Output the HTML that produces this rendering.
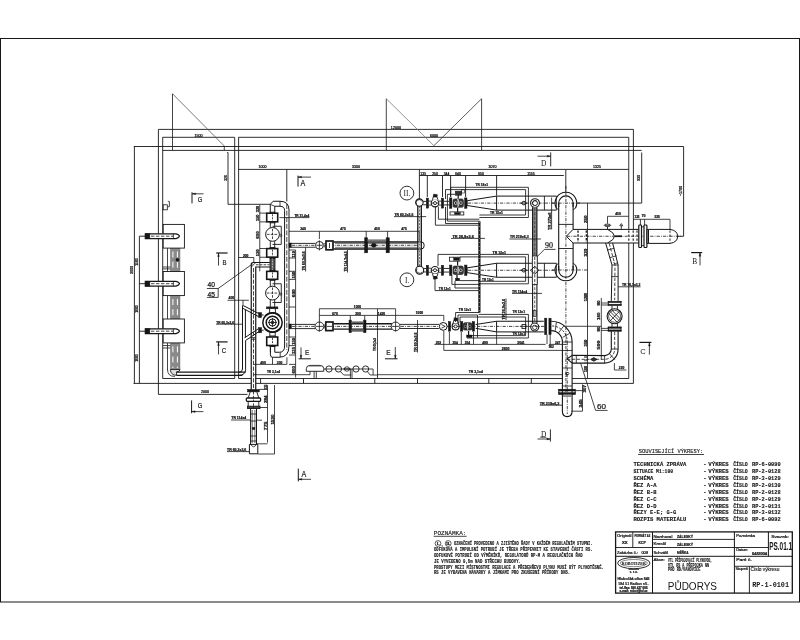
<!DOCTYPE html>
<html><head><meta charset="utf-8"><title>PUDORYS RP-1-0101</title>
<style>
html,body{margin:0;padding:0;background:#fff;}
body{width:800px;height:640px;overflow:hidden;font-family:"Liberation Sans",sans-serif;}
svg{display:block;will-change:transform;opacity:0.999;}
</style></head><body>
<svg width="800" height="640" viewBox="0 0 800 640">
<rect x="0" y="0" width="800" height="640" fill="#ffffff"/>
<rect x="0.50" y="38.50" width="799.00" height="563.50" fill="none" stroke="#161616" stroke-width="1.0" />
<line x1="158.40" y1="129.40" x2="633.50" y2="129.40" stroke="#161616" stroke-width="0.9" />
<line x1="162.60" y1="137.30" x2="234.60" y2="137.30" stroke="#161616" stroke-width="0.9" />
<line x1="238.50" y1="137.30" x2="628.75" y2="137.30" stroke="#161616" stroke-width="0.9" />
<line x1="133.80" y1="146.50" x2="683.60" y2="146.50" stroke="#161616" stroke-width="0.9" />
<line x1="162.60" y1="150.40" x2="641.70" y2="150.40" stroke="#161616" stroke-width="0.9" />
<line x1="158.40" y1="129.40" x2="158.40" y2="394.40" stroke="#161616" stroke-width="0.9" />
<line x1="162.70" y1="137.30" x2="162.70" y2="378.50" stroke="#161616" stroke-width="0.9" />
<line x1="234.70" y1="137.30" x2="234.70" y2="378.50" stroke="#161616" stroke-width="0.9" />
<line x1="238.60" y1="137.30" x2="238.60" y2="378.50" stroke="#161616" stroke-width="0.9" />
<line x1="628.75" y1="137.30" x2="628.75" y2="229.40" stroke="#161616" stroke-width="0.9" />
<line x1="628.75" y1="243.00" x2="628.75" y2="378.50" stroke="#161616" stroke-width="0.9" />
<line x1="633.40" y1="129.40" x2="633.40" y2="229.40" stroke="#161616" stroke-width="0.9" />
<line x1="633.40" y1="243.00" x2="633.40" y2="383.40" stroke="#161616" stroke-width="0.9" />
<line x1="162.70" y1="378.50" x2="234.70" y2="378.50" stroke="#161616" stroke-width="0.9" />
<line x1="238.60" y1="378.50" x2="251.25" y2="378.50" stroke="#161616" stroke-width="0.9" />
<line x1="255.75" y1="378.50" x2="562.40" y2="378.50" stroke="#161616" stroke-width="0.9" />
<line x1="572.10" y1="378.50" x2="628.75" y2="378.50" stroke="#161616" stroke-width="0.9" />
<line x1="133.50" y1="383.40" x2="251.25" y2="383.40" stroke="#161616" stroke-width="0.9" />
<line x1="255.75" y1="383.40" x2="562.40" y2="383.40" stroke="#161616" stroke-width="0.9" />
<line x1="572.10" y1="383.40" x2="633.50" y2="383.40" stroke="#161616" stroke-width="0.9" />
<line x1="260.60" y1="378.50" x2="260.60" y2="383.40" stroke="#161616" stroke-width="0.9" />
<line x1="303.50" y1="378.50" x2="303.50" y2="383.40" stroke="#161616" stroke-width="0.9" />
<line x1="374.80" y1="378.50" x2="374.80" y2="383.40" stroke="#161616" stroke-width="0.9" />
<line x1="417.50" y1="378.50" x2="417.50" y2="383.40" stroke="#161616" stroke-width="0.9" />
<line x1="488.80" y1="378.50" x2="488.80" y2="383.40" stroke="#161616" stroke-width="0.9" />
<line x1="531.30" y1="378.50" x2="531.30" y2="383.40" stroke="#161616" stroke-width="0.9" />
<line x1="134.40" y1="146.50" x2="134.40" y2="383.40" stroke="#161616" stroke-width="0.9" />
<line x1="139.40" y1="236.20" x2="139.40" y2="383.40" stroke="#161616" stroke-width="0.9" />
<text x="132.60" y="270.00" font-family="Liberation Sans" font-size="3.6" font-weight="normal" text-anchor="middle" fill="#161616" stroke="#161616" stroke-width="0.24" transform="rotate(-90 132.60 270.00)" >3000</text>
<text x="137.60" y="262.00" font-family="Liberation Sans" font-size="3.4" font-weight="normal" text-anchor="middle" fill="#161616" stroke="#161616" stroke-width="0.24" transform="rotate(-90 137.60 262.00)" >1500</text>
<text x="137.60" y="309.00" font-family="Liberation Sans" font-size="3.4" font-weight="normal" text-anchor="middle" fill="#161616" stroke="#161616" stroke-width="0.24" transform="rotate(-90 137.60 309.00)" >1000</text>
<text x="137.60" y="358.00" font-family="Liberation Sans" font-size="3.4" font-weight="normal" text-anchor="middle" fill="#161616" stroke="#161616" stroke-width="0.24" transform="rotate(-90 137.60 358.00)" >1000</text>
<line x1="139.40" y1="236.20" x2="145.40" y2="236.20" stroke="#161616" stroke-width="0.9" />
<line x1="139.40" y1="283.70" x2="145.40" y2="283.70" stroke="#161616" stroke-width="0.9" />
<line x1="139.40" y1="331.20" x2="145.40" y2="331.20" stroke="#161616" stroke-width="0.9" />
<line x1="158.40" y1="394.40" x2="247.50" y2="394.40" stroke="#161616" stroke-width="0.9" />
<text x="205.00" y="393.40" font-family="Liberation Sans" font-size="3.6" font-weight="normal" text-anchor="middle" fill="#161616" stroke="#161616" stroke-width="0.24" >2000</text>
<line x1="683.60" y1="146.50" x2="683.60" y2="236.30" stroke="#161616" stroke-width="0.9" />
<line x1="677.50" y1="236.30" x2="683.60" y2="236.30" stroke="#161616" stroke-width="0.9" />
<text x="682.30" y="191.00" font-family="Liberation Sans" font-size="3.6" font-weight="normal" text-anchor="middle" fill="#161616" stroke="#161616" stroke-width="0.24" transform="rotate(-90 682.30 191.00)" >~1700</text>
<line x1="641.70" y1="152.50" x2="641.70" y2="203.10" stroke="#161616" stroke-width="0.9" />
<line x1="576.90" y1="203.10" x2="641.70" y2="203.10" stroke="#161616" stroke-width="0.9" />
<text x="640.40" y="178.00" font-family="Liberation Sans" font-size="3.6" font-weight="normal" text-anchor="middle" fill="#161616" stroke="#161616" stroke-width="0.24" transform="rotate(-90 640.40 178.00)" >930</text>
<line x1="565.80" y1="169.40" x2="628.75" y2="169.40" stroke="#161616" stroke-width="0.9" />
<line x1="565.80" y1="169.40" x2="565.80" y2="192.30" stroke="#161616" stroke-width="0.9" />
<text x="597.00" y="168.30" font-family="Liberation Sans" font-size="3.6" font-weight="normal" text-anchor="middle" fill="#161616" stroke="#161616" stroke-width="0.24" >1325</text>
<line x1="238.60" y1="169.40" x2="565.80" y2="169.40" stroke="#161616" stroke-width="0.9" />
<line x1="286.80" y1="169.40" x2="286.80" y2="201.50" stroke="#161616" stroke-width="0.9" />
<text x="262.50" y="168.30" font-family="Liberation Sans" font-size="3.6" font-weight="normal" text-anchor="middle" fill="#161616" stroke="#161616" stroke-width="0.24" >1000</text>
<text x="356.00" y="168.30" font-family="Liberation Sans" font-size="3.6" font-weight="normal" text-anchor="middle" fill="#161616" stroke="#161616" stroke-width="0.24" >3300</text>
<text x="492.50" y="168.30" font-family="Liberation Sans" font-size="3.6" font-weight="normal" text-anchor="middle" fill="#161616" stroke="#161616" stroke-width="0.24" >3070</text>
<line x1="419.40" y1="175.50" x2="563.80" y2="175.50" stroke="#161616" stroke-width="0.9" />
<line x1="419.40" y1="169.40" x2="419.40" y2="199.00" stroke="#161616" stroke-width="0.9" />
<line x1="427.30" y1="175.50" x2="427.30" y2="197.00" stroke="#161616" stroke-width="0.9" />
<line x1="442.50" y1="175.50" x2="442.50" y2="197.00" stroke="#161616" stroke-width="0.9" />
<line x1="450.60" y1="175.50" x2="450.60" y2="197.00" stroke="#161616" stroke-width="0.9" />
<line x1="465.60" y1="175.50" x2="465.60" y2="197.00" stroke="#161616" stroke-width="0.9" />
<line x1="496.60" y1="175.50" x2="496.60" y2="195.60" stroke="#161616" stroke-width="0.9" />
<text x="423.20" y="174.50" font-family="Liberation Sans" font-size="3.4" font-weight="normal" text-anchor="middle" fill="#161616" stroke="#161616" stroke-width="0.24" >135</text>
<text x="435.00" y="174.50" font-family="Liberation Sans" font-size="3.4" font-weight="normal" text-anchor="middle" fill="#161616" stroke="#161616" stroke-width="0.24" >250</text>
<text x="446.50" y="174.50" font-family="Liberation Sans" font-size="3.4" font-weight="normal" text-anchor="middle" fill="#161616" stroke="#161616" stroke-width="0.24" >344</text>
<text x="458.00" y="174.50" font-family="Liberation Sans" font-size="3.4" font-weight="normal" text-anchor="middle" fill="#161616" stroke="#161616" stroke-width="0.24" >640</text>
<text x="481.00" y="174.50" font-family="Liberation Sans" font-size="3.4" font-weight="normal" text-anchor="middle" fill="#161616" stroke="#161616" stroke-width="0.24" >650</text>
<text x="531.00" y="174.50" font-family="Liberation Sans" font-size="3.4" font-weight="normal" text-anchor="middle" fill="#161616" stroke="#161616" stroke-width="0.24" >1155</text>
<line x1="172.50" y1="93.75" x2="172.50" y2="150.40" stroke="#161616" stroke-width="0.8" />
<line x1="172.50" y1="93.75" x2="224.30" y2="146.00" stroke="#555" stroke-width="0.8" />
<line x1="224.30" y1="146.00" x2="224.30" y2="150.40" stroke="#161616" stroke-width="0.8" />
<text x="198.50" y="136.90" font-family="Liberation Sans" font-size="3.7" font-weight="normal" text-anchor="middle" fill="#161616" stroke="#161616" stroke-width="0.24" >1500</text>
<line x1="386.30" y1="98.75" x2="386.30" y2="150.40" stroke="#161616" stroke-width="0.8" />
<line x1="481.60" y1="98.75" x2="481.60" y2="150.40" stroke="#161616" stroke-width="0.8" />
<line x1="386.30" y1="98.75" x2="433.90" y2="145.70" stroke="#777" stroke-width="0.8" />
<line x1="481.60" y1="98.75" x2="433.90" y2="145.70" stroke="#333" stroke-width="0.8" />
<text x="396.00" y="129.00" font-family="Liberation Sans" font-size="3.7" font-weight="normal" text-anchor="middle" fill="#161616" stroke="#161616" stroke-width="0.24" >12000</text>
<text x="434.00" y="137.00" font-family="Liberation Sans" font-size="3.7" font-weight="normal" text-anchor="middle" fill="#161616" stroke="#161616" stroke-width="0.24" >6000</text>
<line x1="228.00" y1="152.50" x2="228.00" y2="204.30" stroke="#161616" stroke-width="0.9" />
<line x1="228.00" y1="204.30" x2="270.20" y2="204.30" stroke="#161616" stroke-width="0.9" />
<line x1="227.20" y1="152.50" x2="228.00" y2="152.50" stroke="#161616" stroke-width="0.9" />
<text x="226.80" y="178.00" font-family="Liberation Sans" font-size="3.4" font-weight="normal" text-anchor="middle" fill="#161616" stroke="#161616" stroke-width="0.24" transform="rotate(-90 226.80 178.00)" >320</text>
<line x1="298.00" y1="175.60" x2="298.00" y2="186.60" stroke="#161616" stroke-width="1.0" />
<line x1="298.00" y1="177.10" x2="311.00" y2="177.10" stroke="#161616" stroke-width="0.8" />
<path d="M298.30,177.10 L301.50,176.20 L301.50,178.00Z" fill="#161616" stroke="#161616" stroke-width="0.3" />
<text x="300.60" y="186.30" font-family="Liberation Sans" font-size="8.2" font-weight="normal" text-anchor="start" fill="#161616" textLength="4.80" lengthAdjust="spacingAndGlyphs" stroke="#161616" stroke-width="0.2">A</text>
<line x1="298.30" y1="468.60" x2="298.30" y2="481.40" stroke="#161616" stroke-width="1.0" />
<line x1="298.30" y1="479.30" x2="311.00" y2="479.30" stroke="#161616" stroke-width="0.8" />
<path d="M298.60,479.30 L301.80,478.40 L301.80,480.20Z" fill="#161616" stroke="#161616" stroke-width="0.3" />
<text x="301.40" y="476.60" font-family="Liberation Sans" font-size="8.2" font-weight="normal" text-anchor="start" fill="#161616" textLength="4.80" lengthAdjust="spacingAndGlyphs" stroke="#161616" stroke-width="0.2">A</text>
<line x1="192.00" y1="192.30" x2="192.00" y2="203.40" stroke="#161616" stroke-width="1.0" />
<line x1="192.00" y1="193.80" x2="203.50" y2="193.80" stroke="#161616" stroke-width="0.8" />
<path d="M192.30,193.80 L195.50,192.90 L195.50,194.70Z" fill="#161616" stroke="#161616" stroke-width="0.3" />
<text x="197.80" y="202.40" font-family="Liberation Sans" font-size="7.8" font-weight="normal" text-anchor="start" fill="#161616" textLength="4.60" lengthAdjust="spacingAndGlyphs" stroke="#161616" stroke-width="0.2">G</text>
<line x1="191.60" y1="400.40" x2="191.60" y2="413.20" stroke="#161616" stroke-width="1.0" />
<line x1="191.60" y1="411.60" x2="203.40" y2="411.60" stroke="#161616" stroke-width="0.8" />
<path d="M191.90,411.60 L195.10,410.70 L195.10,412.50Z" fill="#161616" stroke="#161616" stroke-width="0.3" />
<text x="197.80" y="407.80" font-family="Liberation Sans" font-size="7.8" font-weight="normal" text-anchor="start" fill="#161616" textLength="4.60" lengthAdjust="spacingAndGlyphs" stroke="#161616" stroke-width="0.2">G</text>
<line x1="216.20" y1="253.00" x2="227.60" y2="253.00" stroke="#161616" stroke-width="1.2" />
<line x1="218.50" y1="253.00" x2="218.50" y2="265.60" stroke="#161616" stroke-width="0.8" />
<path d="M218.50,253.40 L219.40,256.60 L217.60,256.60Z" fill="#161616" stroke="#161616" stroke-width="0.3" />
<text x="222.40" y="264.60" font-family="Liberation Sans" font-size="7.6" font-weight="normal" text-anchor="start" fill="#161616" textLength="4.00" lengthAdjust="spacingAndGlyphs" stroke="#161616" stroke-width="0.2">B</text>
<line x1="216.20" y1="341.90" x2="227.60" y2="341.90" stroke="#161616" stroke-width="1.2" />
<line x1="218.50" y1="342.00" x2="218.50" y2="354.40" stroke="#161616" stroke-width="0.8" />
<path d="M218.50,342.30 L219.40,345.50 L217.60,345.50Z" fill="#161616" stroke="#161616" stroke-width="0.3" />
<text x="221.80" y="353.40" font-family="Liberation Sans" font-size="7.8" font-weight="normal" text-anchor="start" fill="#161616" textLength="4.40" lengthAdjust="spacingAndGlyphs" stroke="#161616" stroke-width="0.2">C</text>
<line x1="691.20" y1="252.60" x2="702.20" y2="252.60" stroke="#161616" stroke-width="1.2" />
<line x1="700.00" y1="252.60" x2="700.00" y2="265.40" stroke="#161616" stroke-width="0.8" />
<path d="M700.00,253.00 L700.90,256.20 L699.10,256.20Z" fill="#161616" stroke="#161616" stroke-width="0.3" />
<text x="692.20" y="264.40" font-family="Liberation Serif" font-size="7.4" font-weight="normal" text-anchor="start" fill="#161616" >B</text>
<line x1="639.40" y1="342.40" x2="651.40" y2="342.40" stroke="#161616" stroke-width="1.2" />
<line x1="649.40" y1="342.40" x2="649.40" y2="354.60" stroke="#161616" stroke-width="0.8" />
<path d="M649.40,342.80 L650.30,346.00 L648.50,346.00Z" fill="#161616" stroke="#161616" stroke-width="0.3" />
<text x="640.20" y="353.60" font-family="Liberation Sans" font-size="7.6" font-weight="normal" text-anchor="start" fill="#161616" >C</text>
<line x1="301.00" y1="347.40" x2="301.00" y2="358.80" stroke="#161616" stroke-width="0.8" />
<line x1="298.60" y1="358.80" x2="310.80" y2="358.80" stroke="#161616" stroke-width="1.0" />
<path d="M301.00,358.40 L300.10,355.20 L301.90,355.20Z" fill="#161616" stroke="#161616" stroke-width="0.3" />
<text x="304.90" y="355.20" font-family="Liberation Sans" font-size="8" font-weight="normal" text-anchor="start" fill="#161616" textLength="4.40" lengthAdjust="spacingAndGlyphs" stroke="#161616" stroke-width="0.2">E</text>
<line x1="395.30" y1="347.00" x2="395.30" y2="358.80" stroke="#161616" stroke-width="0.8" />
<line x1="385.00" y1="358.80" x2="397.60" y2="358.80" stroke="#161616" stroke-width="1.0" />
<path d="M395.30,358.40 L394.40,355.20 L396.20,355.20Z" fill="#161616" stroke="#161616" stroke-width="0.3" />
<text x="386.20" y="355.20" font-family="Liberation Sans" font-size="8" font-weight="normal" text-anchor="start" fill="#161616" textLength="4.40" lengthAdjust="spacingAndGlyphs" stroke="#161616" stroke-width="0.2">E</text>
<line x1="550.70" y1="152.40" x2="550.70" y2="166.40" stroke="#161616" stroke-width="0.9" />
<line x1="537.50" y1="156.20" x2="550.70" y2="156.20" stroke="#161616" stroke-width="0.8" />
<path d="M550.40,156.20 L547.20,157.10 L547.20,155.30Z" fill="#161616" stroke="#161616" stroke-width="0.3" />
<text x="541.00" y="166.40" font-family="Liberation Serif" font-size="7.4" font-weight="normal" text-anchor="start" fill="#161616" >D</text>
<line x1="550.40" y1="429.40" x2="550.40" y2="441.60" stroke="#161616" stroke-width="0.9" />
<line x1="537.50" y1="439.00" x2="550.40" y2="439.00" stroke="#161616" stroke-width="0.8" />
<path d="M550.10,439.00 L546.90,439.90 L546.90,438.10Z" fill="#161616" stroke="#161616" stroke-width="0.3" />
<text x="541.00" y="436.60" font-family="Liberation Serif" font-size="7.4" font-weight="normal" text-anchor="start" fill="#161616" >D</text>
<line x1="540.20" y1="437.20" x2="546.40" y2="437.20" stroke="#161616" stroke-width="0.8" />
<rect x="170.40" y="248.10" width="9.60" height="23.40" fill="#8a8a8a" stroke="#666" stroke-width="0.4" />
<line x1="172.90" y1="251.50" x2="172.90" y2="269.50" stroke="#fff" stroke-width="1.0" stroke-dasharray="6 4.2"/>
<line x1="177.40" y1="251.50" x2="177.40" y2="269.50" stroke="#fff" stroke-width="1.0" stroke-dasharray="6 4.2"/>
<line x1="167.50" y1="248.10" x2="167.50" y2="271.50" stroke="#161616" stroke-width="0.8" />
<rect x="170.40" y="295.60" width="9.60" height="23.40" fill="#8a8a8a" stroke="#666" stroke-width="0.4" />
<line x1="172.90" y1="299.00" x2="172.90" y2="317.00" stroke="#fff" stroke-width="1.0" stroke-dasharray="6 4.2"/>
<line x1="177.40" y1="299.00" x2="177.40" y2="317.00" stroke="#fff" stroke-width="1.0" stroke-dasharray="6 4.2"/>
<line x1="167.50" y1="295.60" x2="167.50" y2="319.00" stroke="#161616" stroke-width="0.8" />
<rect x="170.40" y="342.90" width="9.60" height="27.10" fill="#8a8a8a" stroke="#666" stroke-width="0.4" />
<line x1="172.90" y1="346.30" x2="172.90" y2="368.00" stroke="#fff" stroke-width="1.0" stroke-dasharray="6 4.2"/>
<line x1="177.40" y1="346.30" x2="177.40" y2="368.00" stroke="#fff" stroke-width="1.0" stroke-dasharray="6 4.2"/>
<line x1="167.50" y1="342.90" x2="167.50" y2="370.00" stroke="#161616" stroke-width="0.8" />
<path d="M170.4,369.5 Q170.6,375.2 176.5,375.3 L176.5,372.0 Q180,371.8 180.0,369.5Z" fill="#ddd" stroke="#222" stroke-width="0.9" />
<path d="M167.5,369.5 Q167.6,376.6 175,376.4" fill="none" stroke="#161616" stroke-width="0.8" />
<line x1="176.50" y1="372.00" x2="245.60" y2="372.00" stroke="#161616" stroke-width="1.25" />
<line x1="176.50" y1="375.40" x2="242.40" y2="375.40" stroke="#161616" stroke-width="1.25" />
<line x1="162.70" y1="267.00" x2="170.40" y2="267.00" stroke="#161616" stroke-width="0.8" />
<line x1="162.70" y1="268.90" x2="170.40" y2="268.90" stroke="#161616" stroke-width="0.8" />
<line x1="162.70" y1="345.60" x2="170.40" y2="345.60" stroke="#161616" stroke-width="0.8" />
<line x1="162.70" y1="348.00" x2="170.40" y2="348.00" stroke="#161616" stroke-width="0.8" />
<circle cx="177.50" cy="259.80" r="1.60" fill="#161616" stroke="#161616" stroke-width="0.5"/>
<rect x="163.20" y="224.40" width="21.20" height="23.70" fill="#fff" stroke="#161616" stroke-width="0.9" />
<path d="M145.3,233.80 L176.0,233.80 Q179.2,234.60 179.5,236.20 Q179.2,237.80 176.0,238.60 L145.3,238.60Z" fill="#fff" stroke="#161616" stroke-width="1.2" />
<rect x="145.30" y="233.80" width="4.50" height="4.80" fill="#161616" stroke="#161616" stroke-width="0.6" />
<line x1="151.00" y1="236.20" x2="173.00" y2="236.20" stroke="#161616" stroke-width="0.8" stroke-dasharray="3.4 1.6"/>
<line x1="173.40" y1="233.80" x2="173.40" y2="238.60" stroke="#161616" stroke-width="0.8" />
<rect x="163.20" y="271.50" width="21.20" height="24.10" fill="#fff" stroke="#161616" stroke-width="0.9" />
<path d="M145.3,281.30 L176.0,281.30 Q179.2,282.10 179.5,283.70 Q179.2,285.30 176.0,286.10 L145.3,286.10Z" fill="#fff" stroke="#161616" stroke-width="1.2" />
<rect x="145.30" y="281.30" width="4.50" height="4.80" fill="#161616" stroke="#161616" stroke-width="0.6" />
<line x1="151.00" y1="283.70" x2="173.00" y2="283.70" stroke="#161616" stroke-width="0.8" stroke-dasharray="3.4 1.6"/>
<line x1="173.40" y1="281.30" x2="173.40" y2="286.10" stroke="#161616" stroke-width="0.8" />
<rect x="163.20" y="319.00" width="21.20" height="23.90" fill="#fff" stroke="#161616" stroke-width="0.9" />
<path d="M145.3,328.80 L176.0,328.80 Q179.2,329.60 179.5,331.20 Q179.2,332.80 176.0,333.60 L145.3,333.60Z" fill="#fff" stroke="#161616" stroke-width="1.2" />
<rect x="145.30" y="328.80" width="4.50" height="4.80" fill="#161616" stroke="#161616" stroke-width="0.6" />
<line x1="151.00" y1="331.20" x2="173.00" y2="331.20" stroke="#161616" stroke-width="0.8" stroke-dasharray="3.4 1.6"/>
<line x1="173.40" y1="328.80" x2="173.40" y2="333.60" stroke="#161616" stroke-width="0.8" />
<rect x="163.20" y="204.80" width="4.10" height="5.00" fill="none" stroke="#161616" stroke-width="0.8" />
<path d="M167.8,201.2 L169.4,201.6 L169.4,206.6 L167.6,207.0" fill="none" stroke="#161616" stroke-width="0.8" />
<text x="207.60" y="287.20" font-family="Liberation Sans" font-size="6.8" font-weight="normal" text-anchor="start" fill="#161616" textLength="7.40" lengthAdjust="spacingAndGlyphs" stroke="#161616" stroke-width="0.25">40</text>
<text x="207.60" y="296.60" font-family="Liberation Sans" font-size="6.8" font-weight="normal" text-anchor="start" fill="#161616" textLength="7.40" lengthAdjust="spacingAndGlyphs" stroke="#161616" stroke-width="0.25">45</text>
<line x1="206.90" y1="288.50" x2="218.20" y2="288.50" stroke="#161616" stroke-width="0.8" />
<line x1="206.90" y1="297.40" x2="218.20" y2="297.40" stroke="#161616" stroke-width="0.8" />
<line x1="218.20" y1="288.50" x2="218.20" y2="297.40" stroke="#161616" stroke-width="0.8" />
<line x1="218.20" y1="288.50" x2="253.00" y2="263.60" stroke="#161616" stroke-width="0.8" />
<path d="M270.25,213 L270.25,204.4 L273.1,201.25 L280,201.25 Q289,201.25 289,210 L289,346 Q289,357.25 279,357.25 L272.6,357.25 Q270.4,357.25 270.4,354.8 L270.4,345.6" fill="none" stroke="#161616" stroke-width="1.0" />
<path d="M274.75,213 L274.75,206.25 L280,206.25 Q284.6,206.25 284.6,210.5 L284.6,346 Q284.6,352.25 279.4,352.25 L274.75,352.25 L274.75,345.6" fill="none" stroke="#161616" stroke-width="1.0" />
<line x1="280.00" y1="201.25" x2="280.00" y2="206.25" stroke="#161616" stroke-width="0.8" />
<line x1="270.25" y1="204.40" x2="274.75" y2="206.25" stroke="#161616" stroke-width="0.8" />
<line x1="286.80" y1="204.00" x2="286.80" y2="350.00" stroke="#161616" stroke-width="0.8" stroke-dasharray="5 1.6"/>
<line x1="280.20" y1="352.25" x2="280.20" y2="357.25" stroke="#161616" stroke-width="0.8" />
<line x1="270.30" y1="221.90" x2="270.30" y2="227.80" stroke="#161616" stroke-width="0.9" />
<line x1="274.70" y1="221.90" x2="274.70" y2="227.80" stroke="#161616" stroke-width="0.9" />
<line x1="270.30" y1="241.20" x2="270.30" y2="248.50" stroke="#161616" stroke-width="0.9" />
<line x1="274.70" y1="241.20" x2="274.70" y2="248.50" stroke="#161616" stroke-width="0.9" />
<line x1="270.30" y1="279.40" x2="270.30" y2="286.40" stroke="#161616" stroke-width="0.9" />
<line x1="274.70" y1="279.40" x2="274.70" y2="286.40" stroke="#161616" stroke-width="0.9" />
<line x1="270.30" y1="299.80" x2="270.30" y2="306.90" stroke="#161616" stroke-width="0.9" />
<line x1="274.70" y1="299.80" x2="274.70" y2="306.90" stroke="#161616" stroke-width="0.9" />
<rect x="270.00" y="257.25" width="5.00" height="14.00" fill="#555" stroke="#161616" stroke-width="0.8" />
<line x1="272.50" y1="258.00" x2="272.50" y2="271.00" stroke="#ddd" stroke-width="0.8" stroke-dasharray="1.5 1.2"/>
<rect x="266.70" y="213.20" width="11.00" height="8.60" fill="#fff" stroke="#161616" stroke-width="1.6" />
<line x1="272.50" y1="214.30" x2="272.50" y2="220.70" stroke="#161616" stroke-width="0.8" stroke-dasharray="2 1"/>
<line x1="269.60" y1="212.20" x2="275.40" y2="212.20" stroke="#161616" stroke-width="1.0" />
<line x1="269.60" y1="222.80" x2="275.40" y2="222.80" stroke="#161616" stroke-width="1.0" />
<rect x="266.70" y="248.60" width="11.00" height="8.55" fill="#fff" stroke="#161616" stroke-width="1.6" />
<line x1="272.50" y1="249.70" x2="272.50" y2="256.05" stroke="#161616" stroke-width="0.8" stroke-dasharray="2 1"/>
<line x1="269.60" y1="247.60" x2="275.40" y2="247.60" stroke="#161616" stroke-width="1.0" />
<line x1="269.60" y1="258.15" x2="275.40" y2="258.15" stroke="#161616" stroke-width="1.0" />
<rect x="266.70" y="271.35" width="11.00" height="7.95" fill="#fff" stroke="#161616" stroke-width="1.6" />
<line x1="272.50" y1="272.45" x2="272.50" y2="278.20" stroke="#161616" stroke-width="0.8" stroke-dasharray="2 1"/>
<line x1="269.60" y1="270.35" x2="275.40" y2="270.35" stroke="#161616" stroke-width="1.0" />
<line x1="269.60" y1="280.30" x2="275.40" y2="280.30" stroke="#161616" stroke-width="1.0" />
<rect x="266.70" y="337.00" width="11.00" height="8.50" fill="#fff" stroke="#161616" stroke-width="1.6" />
<line x1="272.50" y1="338.10" x2="272.50" y2="344.40" stroke="#161616" stroke-width="0.8" stroke-dasharray="2 1"/>
<line x1="269.60" y1="336.00" x2="275.40" y2="336.00" stroke="#161616" stroke-width="1.0" />
<line x1="269.60" y1="346.50" x2="275.40" y2="346.50" stroke="#161616" stroke-width="1.0" />
<circle cx="272.50" cy="234.40" r="6.90" fill="#fff" stroke="#161616" stroke-width="1.0"/>
<line x1="272.50" y1="228.80" x2="272.50" y2="240.00" stroke="#161616" stroke-width="0.8" stroke-dasharray="2.6 1.2"/>
<line x1="266.90" y1="234.40" x2="278.10" y2="234.40" stroke="#161616" stroke-width="0.8" stroke-dasharray="2.6 1.2"/>
<path d="M272.5,226.25 L281.25,226.25 L281.25,244.4 L272.5,244.4" fill="none" stroke="#161616" stroke-width="0.9" />
<ellipse cx="281.00" cy="235.40" rx="0.80" ry="1.50" fill="none" stroke="#161616" stroke-width="0.6"/>
<circle cx="272.50" cy="293.10" r="6.90" fill="#fff" stroke="#161616" stroke-width="1.0"/>
<line x1="272.50" y1="287.50" x2="272.50" y2="298.70" stroke="#161616" stroke-width="0.8" stroke-dasharray="2.6 1.2"/>
<line x1="266.90" y1="293.10" x2="278.10" y2="293.10" stroke="#161616" stroke-width="0.8" stroke-dasharray="2.6 1.2"/>
<path d="M272.5,283.75 L281.25,283.75 L281.25,302.5 L272.5,302.5" fill="none" stroke="#161616" stroke-width="0.9" />
<ellipse cx="281.00" cy="294.10" rx="0.80" ry="1.50" fill="none" stroke="#161616" stroke-width="0.6"/>
<rect x="266.50" y="306.90" width="11.40" height="1.90" fill="#161616" stroke="#161616" stroke-width="0.5" />
<line x1="269.60" y1="308.80" x2="269.60" y2="313.20" stroke="#161616" stroke-width="0.9" />
<line x1="275.40" y1="308.80" x2="275.40" y2="313.20" stroke="#161616" stroke-width="0.9" />
<circle cx="272.50" cy="322.50" r="9.70" fill="#fff" stroke="#161616" stroke-width="1.5"/>
<circle cx="272.50" cy="322.50" r="6.30" fill="none" stroke="#161616" stroke-width="1.5"/>
<circle cx="272.50" cy="322.50" r="3.60" fill="none" stroke="#161616" stroke-width="1.0"/>
<circle cx="272.50" cy="322.50" r="1.40" fill="#555" stroke="#161616" stroke-width="0.8"/>
<path d="M265.2,316.2 A9.6,9.6 0 0 1 279.8,316.2" fill="none" stroke="#161616" stroke-width="1.6" />
<path d="M264.8,328.4 A9.9,9.9 0 0 0 280.2,328.4" fill="none" stroke="#161616" stroke-width="1.8" />
<line x1="272.50" y1="318.00" x2="272.50" y2="327.00" stroke="#161616" stroke-width="0.8" />
<line x1="268.00" y1="322.50" x2="277.00" y2="322.50" stroke="#161616" stroke-width="0.8" />
<line x1="269.80" y1="332.20" x2="269.80" y2="336.90" stroke="#161616" stroke-width="0.9" />
<line x1="275.20" y1="332.20" x2="275.20" y2="336.90" stroke="#161616" stroke-width="0.9" />
<line x1="270.40" y1="345.60" x2="270.40" y2="352.00" stroke="#161616" stroke-width="0.9" />
<rect x="258.60" y="312.60" width="3.00" height="5.00" fill="#161616" stroke="#161616" stroke-width="0.5" />
<rect x="258.60" y="327.60" width="3.00" height="5.20" fill="#161616" stroke="#161616" stroke-width="0.5" />
<line x1="261.60" y1="315.00" x2="263.60" y2="315.00" stroke="#161616" stroke-width="1.0" />
<line x1="261.60" y1="330.20" x2="263.60" y2="330.20" stroke="#161616" stroke-width="1.0" />
<line x1="243.40" y1="305.60" x2="258.80" y2="313.60" stroke="#161616" stroke-width="1.0" />
<line x1="242.60" y1="308.20" x2="258.60" y2="316.60" stroke="#161616" stroke-width="1.0" />
<line x1="244.60" y1="337.80" x2="258.60" y2="328.60" stroke="#161616" stroke-width="1.0" />
<line x1="245.80" y1="340.40" x2="258.80" y2="331.60" stroke="#161616" stroke-width="1.0" />
<path d="M242.5,305.6 L242.5,369 Q242.4,372.2 238.6,372.4" fill="none" stroke="#161616" stroke-width="1.0" />
<path d="M245.4,309.6 L245.4,337.4 M245.6,340.4 L245.6,369.4 Q245.6,375.2 238.6,375.4" fill="none" stroke="#161616" stroke-width="1.0" />
<path d="M270.2,262.5 L253,262.5 Q251.25,262.5 251.25,264.5 L251.25,389.4" fill="none" stroke="#161616" stroke-width="1.2" />
<path d="M270.2,267.0 L255.75,267.0 L255.75,389.4" fill="none" stroke="#161616" stroke-width="1.2" />
<line x1="253.50" y1="268.00" x2="253.50" y2="388.00" stroke="#161616" stroke-width="0.8" stroke-dasharray="4.2 1.6"/>
<line x1="256.00" y1="264.75" x2="269.50" y2="264.75" stroke="#161616" stroke-width="0.8" stroke-dasharray="2.6 1.2"/>
<line x1="251.25" y1="267.00" x2="255.75" y2="262.50" stroke="#161616" stroke-width="0.8" />
<rect x="252.00" y="337.40" width="3.00" height="2.20" fill="none" stroke="#161616" stroke-width="0.6" />
<line x1="227.50" y1="300.25" x2="248.80" y2="300.25" stroke="#161616" stroke-width="0.8" />
<line x1="243.00" y1="300.25" x2="243.00" y2="306.50" stroke="#161616" stroke-width="0.8" />
<text x="228.60" y="299.40" font-family="Liberation Sans" font-size="3.3" font-weight="bold" text-anchor="start" fill="#161616" stroke="#161616" stroke-width="0.24" >400</text>
<line x1="238.60" y1="257.50" x2="253.80" y2="257.50" stroke="#161616" stroke-width="0.8" />
<line x1="253.80" y1="257.50" x2="253.80" y2="262.50" stroke="#161616" stroke-width="0.8" />
<text x="245.70" y="256.60" font-family="Liberation Sans" font-size="3.3" font-weight="bold" text-anchor="middle" fill="#161616" stroke="#161616" stroke-width="0.24" >200</text>
<line x1="259.75" y1="205.00" x2="259.75" y2="271.30" stroke="#161616" stroke-width="0.8" />
<line x1="259.75" y1="213.10" x2="266.50" y2="213.10" stroke="#161616" stroke-width="0.8" />
<line x1="259.75" y1="221.90" x2="266.50" y2="221.90" stroke="#161616" stroke-width="0.8" />
<line x1="259.75" y1="248.50" x2="266.50" y2="248.50" stroke="#161616" stroke-width="0.8" />
<line x1="259.75" y1="257.25" x2="266.50" y2="257.25" stroke="#161616" stroke-width="0.8" />
<text x="258.80" y="212.20" font-family="Liberation Sans" font-size="3.2" font-weight="bold" text-anchor="start" fill="#161616" stroke="#161616" stroke-width="0.24" transform="rotate(-90 258.80 212.20)" textLength="6.40" lengthAdjust="spacingAndGlyphs" >320</text>
<text x="258.80" y="221.00" font-family="Liberation Sans" font-size="3.2" font-weight="bold" text-anchor="start" fill="#161616" stroke="#161616" stroke-width="0.24" transform="rotate(-90 258.80 221.00)" textLength="6.40" lengthAdjust="spacingAndGlyphs" >150</text>
<text x="258.80" y="238.80" font-family="Liberation Sans" font-size="3.4" font-weight="bold" text-anchor="start" fill="#161616" stroke="#161616" stroke-width="0.24" transform="rotate(-90 258.80 238.80)" textLength="7.60" lengthAdjust="spacingAndGlyphs" >600</text>
<text x="258.80" y="256.20" font-family="Liberation Sans" font-size="3.2" font-weight="bold" text-anchor="start" fill="#161616" stroke="#161616" stroke-width="0.24" transform="rotate(-90 258.80 256.20)" textLength="6.80" lengthAdjust="spacingAndGlyphs" >110</text>
<line x1="295.60" y1="250.00" x2="295.60" y2="377.60" stroke="#161616" stroke-width="0.8" />
<line x1="289.00" y1="250.00" x2="295.60" y2="250.00" stroke="#161616" stroke-width="0.8" />
<line x1="289.00" y1="258.00" x2="295.60" y2="258.00" stroke="#161616" stroke-width="0.8" />
<line x1="289.00" y1="271.30" x2="295.60" y2="271.30" stroke="#161616" stroke-width="0.8" />
<line x1="289.00" y1="279.40" x2="295.60" y2="279.40" stroke="#161616" stroke-width="0.8" />
<line x1="289.00" y1="307.00" x2="295.60" y2="307.00" stroke="#161616" stroke-width="0.8" />
<line x1="289.00" y1="337.00" x2="295.60" y2="337.00" stroke="#161616" stroke-width="0.8" />
<line x1="289.00" y1="345.60" x2="295.60" y2="345.60" stroke="#161616" stroke-width="0.8" />
<line x1="289.00" y1="355.00" x2="295.60" y2="355.00" stroke="#161616" stroke-width="0.8" />
<line x1="289.00" y1="364.40" x2="295.60" y2="364.40" stroke="#161616" stroke-width="0.8" />
<text x="294.80" y="257.40" font-family="Liberation Sans" font-size="3.2" font-weight="bold" text-anchor="start" fill="#161616" stroke="#161616" stroke-width="0.24" transform="rotate(-90 294.80 257.40)" textLength="6.40" lengthAdjust="spacingAndGlyphs" >110</text>
<text x="294.80" y="278.60" font-family="Liberation Sans" font-size="3.2" font-weight="bold" text-anchor="start" fill="#161616" stroke="#161616" stroke-width="0.24" transform="rotate(-90 294.80 278.60)" textLength="7.00" lengthAdjust="spacingAndGlyphs" >150</text>
<text x="294.80" y="297.20" font-family="Liberation Sans" font-size="3.4" font-weight="bold" text-anchor="start" fill="#161616" stroke="#161616" stroke-width="0.24" transform="rotate(-90 294.80 297.20)" textLength="8.00" lengthAdjust="spacingAndGlyphs" >600</text>
<text x="294.80" y="344.80" font-family="Liberation Sans" font-size="3.2" font-weight="bold" text-anchor="start" fill="#161616" stroke="#161616" stroke-width="0.24" transform="rotate(-90 294.80 344.80)" textLength="6.80" lengthAdjust="spacingAndGlyphs" >150</text>
<text x="294.80" y="354.00" font-family="Liberation Sans" font-size="3.2" font-weight="bold" text-anchor="start" fill="#161616" stroke="#161616" stroke-width="0.24" transform="rotate(-90 294.80 354.00)" textLength="7.00" lengthAdjust="spacingAndGlyphs" >125</text>
<text x="294.80" y="373.60" font-family="Liberation Sans" font-size="3.2" font-weight="bold" text-anchor="start" fill="#161616" stroke="#161616" stroke-width="0.24" transform="rotate(-90 294.80 373.60)" textLength="7.60" lengthAdjust="spacingAndGlyphs" >600</text>
<text x="294.40" y="217.00" font-family="Liberation Sans" font-size="3.5" font-weight="bold" text-anchor="start" fill="#161616" stroke="#161616" stroke-width="0.24" textLength="15.00" lengthAdjust="spacingAndGlyphs" >TR 31,4x4</text>
<line x1="279.40" y1="217.60" x2="309.40" y2="217.60" stroke="#161616" stroke-width="0.8" />
<text x="216.20" y="323.60" font-family="Liberation Sans" font-size="3.5" font-weight="bold" text-anchor="start" fill="#161616" stroke="#161616" stroke-width="0.24" textLength="17.80" lengthAdjust="spacingAndGlyphs" >TR 60,3x3,6</text>
<line x1="216.00" y1="324.20" x2="243.00" y2="324.20" stroke="#161616" stroke-width="0.8" />
<text x="303.00" y="230.40" font-family="Liberation Sans" font-size="3.3" font-weight="bold" text-anchor="middle" fill="#161616" stroke="#161616" stroke-width="0.24" >340</text>
<line x1="253.80" y1="364.40" x2="286.90" y2="364.40" stroke="#161616" stroke-width="0.8" />
<line x1="272.50" y1="357.25" x2="272.50" y2="364.40" stroke="#161616" stroke-width="0.8" />
<line x1="286.90" y1="357.25" x2="286.90" y2="364.40" stroke="#161616" stroke-width="0.8" />
<text x="263.00" y="363.60" font-family="Liberation Sans" font-size="3.3" font-weight="bold" text-anchor="middle" fill="#161616" stroke="#161616" stroke-width="0.24" >400</text>
<text x="279.60" y="363.60" font-family="Liberation Sans" font-size="3.3" font-weight="bold" text-anchor="middle" fill="#161616" stroke="#161616" stroke-width="0.24" >300</text>
<text x="266.90" y="373.20" font-family="Liberation Sans" font-size="3.4" font-weight="bold" text-anchor="start" fill="#161616" stroke="#161616" stroke-width="0.24" textLength="13.10" lengthAdjust="spacingAndGlyphs" >TR 3,1x4</text>
<line x1="253.80" y1="374.70" x2="310.00" y2="374.70" stroke="#161616" stroke-width="0.8" />
<line x1="310.00" y1="371.30" x2="310.00" y2="374.70" stroke="#161616" stroke-width="0.8" />
<line x1="377.50" y1="374.70" x2="562.40" y2="374.70" stroke="#161616" stroke-width="0.8" />
<text x="468.80" y="373.00" font-family="Liberation Sans" font-size="3.4" font-weight="bold" text-anchor="start" fill="#161616" stroke="#161616" stroke-width="0.24" textLength="14.00" lengthAdjust="spacingAndGlyphs" >TR 3,1x4</text>
<line x1="289.00" y1="231.30" x2="419.40" y2="231.30" stroke="#161616" stroke-width="0.8" />
<line x1="319.40" y1="231.30" x2="319.40" y2="239.00" stroke="#161616" stroke-width="0.8" />
<line x1="366.20" y1="231.30" x2="366.20" y2="239.00" stroke="#161616" stroke-width="0.8" />
<line x1="387.60" y1="231.30" x2="387.60" y2="239.00" stroke="#161616" stroke-width="0.8" />
<line x1="419.40" y1="231.30" x2="419.40" y2="242.00" stroke="#161616" stroke-width="0.8" />
<text x="343.00" y="230.40" font-family="Liberation Sans" font-size="3.3" font-weight="bold" text-anchor="middle" fill="#161616" stroke="#161616" stroke-width="0.24" >475</text>
<text x="377.00" y="230.40" font-family="Liberation Sans" font-size="3.3" font-weight="bold" text-anchor="middle" fill="#161616" stroke="#161616" stroke-width="0.24" >450</text>
<text x="404.00" y="230.40" font-family="Liberation Sans" font-size="3.3" font-weight="bold" text-anchor="middle" fill="#161616" stroke="#161616" stroke-width="0.24" >475</text>
<rect x="289.00" y="243.00" width="2.20" height="4.60" fill="#161616" stroke="#161616" stroke-width="0.5" />
<line x1="291.00" y1="243.40" x2="315.60" y2="243.40" stroke="#161616" stroke-width="0.9" />
<line x1="291.00" y1="247.25" x2="315.60" y2="247.25" stroke="#161616" stroke-width="0.9" />
<line x1="292.00" y1="245.30" x2="417.00" y2="245.30" stroke="#161616" stroke-width="0.8" stroke-dasharray="3.2 1.2 0.8 1.2"/>
<circle cx="319.40" cy="245.30" r="3.90" fill="#fff" stroke="#161616" stroke-width="0.9"/>
<line x1="319.40" y1="240.40" x2="319.40" y2="250.40" stroke="#161616" stroke-width="0.8" />
<line x1="316.50" y1="245.30" x2="322.40" y2="245.30" stroke="#161616" stroke-width="0.8" />
<line x1="323.30" y1="243.80" x2="325.30" y2="243.80" stroke="#161616" stroke-width="0.8" />
<line x1="323.30" y1="246.80" x2="325.30" y2="246.80" stroke="#161616" stroke-width="0.8" />
<rect x="326.00" y="241.00" width="7.00" height="8.80" fill="#fff" stroke="#161616" stroke-width="1.7" />
<line x1="329.50" y1="243.00" x2="329.50" y2="248.00" stroke="#161616" stroke-width="0.8" />
<line x1="333.80" y1="241.90" x2="417.80" y2="241.90" stroke="#161616" stroke-width="1.5" />
<line x1="333.80" y1="249.00" x2="417.80" y2="249.00" stroke="#161616" stroke-width="1.5" />
<line x1="335.00" y1="243.60" x2="417.00" y2="243.60" stroke="#555" stroke-width="0.8" />
<line x1="335.00" y1="247.30" x2="417.00" y2="247.30" stroke="#555" stroke-width="0.8" />
<rect x="364.70" y="237.80" width="3.00" height="15.00" fill="#161616" stroke="#161616" stroke-width="0.5" />
<rect x="386.10" y="237.80" width="3.20" height="15.00" fill="#161616" stroke="#161616" stroke-width="0.5" />
<rect x="367.80" y="239.60" width="18.20" height="1.80" fill="#777" stroke="#666" stroke-width="0.3" />
<ellipse cx="373.80" cy="245.30" rx="2.40" ry="2.00" fill="#161616" stroke="#161616" stroke-width="0.5"/>
<path d="M417.8,241.9 L421.4,241.9 Q424.2,241.9 424.2,245.4 Q424.2,249 421.4,249 L417.8,249" fill="none" stroke="#161616" stroke-width="1.0" />
<line x1="347.50" y1="250.00" x2="347.50" y2="272.50" stroke="#161616" stroke-width="0.8" />
<text x="346.60" y="271.60" font-family="Liberation Sans" font-size="3.5" font-weight="bold" text-anchor="start" fill="#161616" stroke="#161616" stroke-width="0.24" transform="rotate(-90 346.60 271.60)" textLength="20.20" lengthAdjust="spacingAndGlyphs" >TR 114,3x4,5</text>
<line x1="305.60" y1="247.50" x2="305.60" y2="271.50" stroke="#161616" stroke-width="0.8" />
<text x="304.80" y="270.60" font-family="Liberation Sans" font-size="3.5" font-weight="bold" text-anchor="start" fill="#161616" stroke="#161616" stroke-width="0.24" transform="rotate(-90 304.80 270.60)" textLength="19.20" lengthAdjust="spacingAndGlyphs" >TR 60,3x3,6</text>
<text x="394.40" y="216.00" font-family="Liberation Sans" font-size="3.5" font-weight="bold" text-anchor="start" fill="#161616" stroke="#161616" stroke-width="0.24" textLength="19.00" lengthAdjust="spacingAndGlyphs" >TR 60,3x3,6</text>
<line x1="394.00" y1="216.60" x2="426.20" y2="216.60" stroke="#161616" stroke-width="0.8" />
<line x1="417.80" y1="204.00" x2="417.80" y2="268.50" stroke="#161616" stroke-width="1.3" />
<line x1="421.30" y1="206.00" x2="421.30" y2="267.00" stroke="#161616" stroke-width="1.3" />
<line x1="419.55" y1="206.00" x2="419.55" y2="267.00" stroke="#777" stroke-width="1.2" stroke-dasharray="2.2 1.2"/>
<circle cx="419.40" cy="202.60" r="3.70" fill="#fff" stroke="#161616" stroke-width="1.1"/>
<path d="M416.6,204.6 A3,3 0 0 1 421.8,201.0" fill="none" stroke="#161616" stroke-width="0.8" />
<circle cx="419.70" cy="270.30" r="4.00" fill="#fff" stroke="#161616" stroke-width="1.1"/>
<path d="M416.9,268.6 A3,3 0 0 0 422.2,271.8" fill="none" stroke="#161616" stroke-width="0.8" />
<line x1="423.20" y1="201.40" x2="426.20" y2="201.40" stroke="#161616" stroke-width="0.9" />
<line x1="423.20" y1="204.80" x2="426.20" y2="204.80" stroke="#161616" stroke-width="0.9" />
<rect x="426.25" y="198.10" width="2.30" height="10.00" fill="#161616" stroke="#161616" stroke-width="0.5" />
<rect x="441.35" y="198.10" width="2.30" height="10.00" fill="#161616" stroke="#161616" stroke-width="0.5" />
<circle cx="435.00" cy="203.10" r="3.80" fill="#fff" stroke="#161616" stroke-width="1.1"/>
<circle cx="435.00" cy="203.10" r="1.50" fill="none" stroke="#161616" stroke-width="0.9"/>
<line x1="431.20" y1="203.10" x2="433.50" y2="203.10" stroke="#161616" stroke-width="0.8" />
<line x1="436.50" y1="203.10" x2="438.80" y2="203.10" stroke="#161616" stroke-width="0.8" />
<path d="M432.4,199.7 L433.4,196.7 L436.8,196.7 L438.0,199.7" fill="#fff" stroke="#161616" stroke-width="0.9" />
<path d="M433.2,196.9 L433.6,194.1 L437.4,194.7 L437.0,196.9Z" fill="#161616" stroke="#161616" stroke-width="0.5" />
<line x1="428.60" y1="201.10" x2="431.20" y2="201.10" stroke="#161616" stroke-width="0.8" />
<line x1="428.60" y1="205.10" x2="431.20" y2="205.10" stroke="#161616" stroke-width="0.8" />
<line x1="438.80" y1="201.10" x2="441.40" y2="201.10" stroke="#161616" stroke-width="0.8" />
<line x1="438.80" y1="205.10" x2="441.40" y2="205.10" stroke="#161616" stroke-width="0.8" />
<line x1="443.60" y1="201.30" x2="449.50" y2="201.30" stroke="#161616" stroke-width="0.9" />
<line x1="443.60" y1="204.90" x2="449.50" y2="204.90" stroke="#161616" stroke-width="0.9" />
<rect x="449.50" y="197.90" width="2.40" height="10.40" fill="#161616" stroke="#161616" stroke-width="0.5" />
<rect x="464.60" y="197.90" width="2.40" height="10.40" fill="#161616" stroke="#161616" stroke-width="0.5" />
<rect x="453.00" y="198.90" width="10.40" height="8.40" fill="#3a3a3a" stroke="#161616" stroke-width="0.6" rx="1.6"/>
<circle cx="455.60" cy="203.10" r="2.24" fill="#d0d0d0" stroke="#161616" stroke-width="0.8"/>
<circle cx="460.80" cy="203.10" r="2.24" fill="#d0d0d0" stroke="#161616" stroke-width="0.8"/>
<circle cx="455.60" cy="203.10" r="0.80" fill="#161616" stroke="#161616" stroke-width="0.4"/>
<circle cx="460.80" cy="203.10" r="0.80" fill="#161616" stroke="#161616" stroke-width="0.4"/>
<rect x="457.75" y="199.70" width="0.90" height="6.80" fill="#ddd" stroke="#ddd" stroke-width="0.3" />
<path d="M467.2,200.7 L496.6,196.1 L556.4,196.1" fill="none" stroke="#161616" stroke-width="1.0" />
<path d="M467.2,205.5 L496.6,210.1 L556.4,210.1" fill="none" stroke="#161616" stroke-width="1.0" />
<line x1="467.20" y1="200.70" x2="467.20" y2="205.50" stroke="#161616" stroke-width="0.8" />
<line x1="496.60" y1="196.10" x2="496.60" y2="210.10" stroke="#161616" stroke-width="1.0" />
<line x1="544.40" y1="196.10" x2="544.40" y2="210.10" stroke="#161616" stroke-width="0.9" />
<line x1="468.00" y1="203.10" x2="557.00" y2="203.10" stroke="#161616" stroke-width="0.8" stroke-dasharray="3.2 1.2 0.8 1.2"/>
<circle cx="523.80" cy="203.10" r="1.80" fill="#fff" stroke="#161616" stroke-width="1.0"/>
<line x1="520.60" y1="203.10" x2="527.20" y2="203.10" stroke="#161616" stroke-width="0.9" />
<line x1="423.20" y1="268.55" x2="426.20" y2="268.55" stroke="#161616" stroke-width="0.9" />
<line x1="423.20" y1="271.95" x2="426.20" y2="271.95" stroke="#161616" stroke-width="0.9" />
<rect x="426.25" y="265.25" width="2.30" height="10.00" fill="#161616" stroke="#161616" stroke-width="0.5" />
<rect x="441.35" y="265.25" width="2.30" height="10.00" fill="#161616" stroke="#161616" stroke-width="0.5" />
<circle cx="435.00" cy="270.25" r="3.80" fill="#fff" stroke="#161616" stroke-width="1.1"/>
<circle cx="435.00" cy="270.25" r="1.50" fill="none" stroke="#161616" stroke-width="0.9"/>
<line x1="431.20" y1="270.25" x2="433.50" y2="270.25" stroke="#161616" stroke-width="0.8" />
<line x1="436.50" y1="270.25" x2="438.80" y2="270.25" stroke="#161616" stroke-width="0.8" />
<path d="M432.4,273.65 L433.4,276.65 L436.8,276.65 L438.0,273.65" fill="#fff" stroke="#161616" stroke-width="0.9" />
<path d="M433.2,276.45 L433.6,279.25 L437.4,278.65 L437.0,276.45Z" fill="#161616" stroke="#161616" stroke-width="0.5" />
<line x1="428.60" y1="268.25" x2="431.20" y2="268.25" stroke="#161616" stroke-width="0.8" />
<line x1="428.60" y1="272.25" x2="431.20" y2="272.25" stroke="#161616" stroke-width="0.8" />
<line x1="438.80" y1="268.25" x2="441.40" y2="268.25" stroke="#161616" stroke-width="0.8" />
<line x1="438.80" y1="272.25" x2="441.40" y2="272.25" stroke="#161616" stroke-width="0.8" />
<line x1="443.60" y1="268.45" x2="449.50" y2="268.45" stroke="#161616" stroke-width="0.9" />
<line x1="443.60" y1="272.05" x2="449.50" y2="272.05" stroke="#161616" stroke-width="0.9" />
<rect x="449.50" y="265.05" width="2.40" height="10.40" fill="#161616" stroke="#161616" stroke-width="0.5" />
<rect x="464.60" y="265.05" width="2.40" height="10.40" fill="#161616" stroke="#161616" stroke-width="0.5" />
<rect x="453.00" y="266.05" width="10.40" height="8.40" fill="#3a3a3a" stroke="#161616" stroke-width="0.6" rx="1.6"/>
<circle cx="455.60" cy="270.25" r="2.24" fill="#d0d0d0" stroke="#161616" stroke-width="0.8"/>
<circle cx="460.80" cy="270.25" r="2.24" fill="#d0d0d0" stroke="#161616" stroke-width="0.8"/>
<circle cx="455.60" cy="270.25" r="0.80" fill="#161616" stroke="#161616" stroke-width="0.4"/>
<circle cx="460.80" cy="270.25" r="0.80" fill="#161616" stroke="#161616" stroke-width="0.4"/>
<rect x="457.75" y="266.85" width="0.90" height="6.80" fill="#ddd" stroke="#ddd" stroke-width="0.3" />
<path d="M467.2,267.85 L496.6,263.25 L556.4,263.25" fill="none" stroke="#161616" stroke-width="1.0" />
<path d="M467.2,272.65 L496.6,277.25 L556.4,277.25" fill="none" stroke="#161616" stroke-width="1.0" />
<line x1="467.20" y1="267.85" x2="467.20" y2="272.65" stroke="#161616" stroke-width="0.8" />
<line x1="496.60" y1="263.25" x2="496.60" y2="277.25" stroke="#161616" stroke-width="1.0" />
<line x1="544.40" y1="263.25" x2="544.40" y2="277.25" stroke="#161616" stroke-width="0.9" />
<line x1="468.00" y1="270.25" x2="557.00" y2="270.25" stroke="#161616" stroke-width="0.8" stroke-dasharray="3.2 1.2 0.8 1.2"/>
<circle cx="523.80" cy="270.25" r="1.80" fill="#fff" stroke="#161616" stroke-width="1.0"/>
<line x1="520.60" y1="270.25" x2="527.20" y2="270.25" stroke="#161616" stroke-width="0.9" />
<line x1="458.20" y1="195.00" x2="458.20" y2="198.40" stroke="#161616" stroke-width="1.2" />
<rect x="455.40" y="191.20" width="6.20" height="4.00" fill="#333" stroke="#161616" stroke-width="0.6" />
<rect x="461.60" y="189.80" width="2.80" height="3.20" fill="none" stroke="#161616" stroke-width="0.6" />
<rect x="450.00" y="211.90" width="13.80" height="3.10" fill="none" stroke="#161616" stroke-width="0.8" />
<rect x="454.60" y="212.50" width="5.80" height="2.00" fill="#161616" stroke="#161616" stroke-width="0.4" />
<line x1="457.60" y1="208.00" x2="457.60" y2="211.90" stroke="#161616" stroke-width="1.2" />
<rect x="449.40" y="257.20" width="10.60" height="4.00" fill="none" stroke="#161616" stroke-width="0.8" />
<rect x="453.60" y="257.80" width="5.60" height="2.60" fill="#161616" stroke="#161616" stroke-width="0.4" />
<line x1="457.60" y1="261.20" x2="457.60" y2="265.40" stroke="#161616" stroke-width="1.2" />
<line x1="457.00" y1="275.00" x2="457.00" y2="280.60" stroke="#161616" stroke-width="1.3" />
<rect x="455.40" y="278.20" width="4.20" height="2.60" fill="#161616" stroke="#161616" stroke-width="0.4" />
<circle cx="535.00" cy="203.10" r="4.40" fill="#fff" stroke="#161616" stroke-width="1.1"/>
<circle cx="535.00" cy="203.10" r="2.50" fill="none" stroke="#161616" stroke-width="0.9"/>
<path d="M533.4,205.2 A2.6,2.6 0 0 1 536.8,201.2" fill="none" stroke="#161616" stroke-width="0.8" />
<rect x="532.60" y="207.20" width="4.30" height="48.80" fill="#8a8a8a" stroke="#777" stroke-width="0.3" />
<line x1="532.60" y1="207.20" x2="532.60" y2="323.00" stroke="#161616" stroke-width="1.1" />
<line x1="536.90" y1="207.20" x2="536.90" y2="323.00" stroke="#161616" stroke-width="1.1" />
<line x1="534.75" y1="208.00" x2="534.75" y2="322.00" stroke="#333" stroke-width="0.8" stroke-dasharray="3 1.4"/>
<rect x="532.30" y="256.00" width="4.90" height="28.50" fill="#fff" stroke="#161616" stroke-width="0.8" />
<line x1="534.75" y1="257.00" x2="534.75" y2="284.00" stroke="#161616" stroke-width="0.8" stroke-dasharray="3 1.4"/>
<path d="M530.6,270.25 L534.75,266.4 L538.9,270.25 L534.75,274.1Z" fill="none" stroke="#161616" stroke-width="0.9" />
<rect x="533.20" y="310.40" width="3.20" height="6.00" fill="#aaa" stroke="#161616" stroke-width="0.6" />
<circle cx="534.75" cy="327.00" r="4.00" fill="#fff" stroke="#161616" stroke-width="1.1"/>
<circle cx="534.75" cy="327.40" r="2.20" fill="none" stroke="#161616" stroke-width="0.8"/>
<text x="545.00" y="247.60" font-family="Liberation Serif" font-size="7.4" font-weight="normal" text-anchor="start" fill="#161616" textLength="8.00" lengthAdjust="spacingAndGlyphs" stroke="#161616" stroke-width="0.2">90</text>
<line x1="544.40" y1="249.40" x2="555.60" y2="249.40" stroke="#161616" stroke-width="0.8" />
<line x1="544.40" y1="249.40" x2="537.20" y2="256.60" stroke="#161616" stroke-width="0.8" />
<text x="510.00" y="238.40" font-family="Liberation Sans" font-size="3.5" font-weight="bold" text-anchor="start" fill="#161616" stroke="#161616" stroke-width="0.24" textLength="18.80" lengthAdjust="spacingAndGlyphs" >TR 219x6,3</text>
<line x1="509.40" y1="239.00" x2="541.00" y2="239.00" stroke="#161616" stroke-width="0.8" />
<text x="512.00" y="292.80" font-family="Liberation Sans" font-size="3.5" font-weight="bold" text-anchor="start" fill="#161616" stroke="#161616" stroke-width="0.24" textLength="15.20" lengthAdjust="spacingAndGlyphs" >TR 114x4</text>
<line x1="512.00" y1="293.40" x2="542.00" y2="293.40" stroke="#161616" stroke-width="0.8" />
<text x="452.50" y="237.80" font-family="Liberation Sans" font-size="3.5" font-weight="bold" text-anchor="start" fill="#161616" stroke="#161616" stroke-width="0.24" textLength="21.30" lengthAdjust="spacingAndGlyphs" >TR 26,9x2,6</text>
<line x1="451.00" y1="238.40" x2="485.00" y2="238.40" stroke="#161616" stroke-width="0.8" />
<line x1="551.60" y1="197.50" x2="551.60" y2="229.40" stroke="#161616" stroke-width="0.8" />
<text x="550.60" y="230.00" font-family="Liberation Sans" font-size="3.5" font-weight="bold" text-anchor="start" fill="#161616" stroke="#161616" stroke-width="0.24" transform="rotate(-90 550.60 230.00)" textLength="17.50" lengthAdjust="spacingAndGlyphs" >TR 273x6</text>
<line x1="506.00" y1="298.50" x2="506.00" y2="320.00" stroke="#161616" stroke-width="0.8" />
<text x="505.40" y="319.40" font-family="Liberation Sans" font-size="3.5" font-weight="bold" text-anchor="start" fill="#161616" stroke="#161616" stroke-width="0.24" transform="rotate(-90 505.40 319.40)" textLength="20.60" lengthAdjust="spacingAndGlyphs" >TR 26,9x2,6</text>
<rect x="289.00" y="324.00" width="2.40" height="4.80" fill="#161616" stroke="#161616" stroke-width="0.5" />
<line x1="291.40" y1="324.40" x2="315.20" y2="324.40" stroke="#161616" stroke-width="0.9" />
<line x1="291.40" y1="328.60" x2="315.20" y2="328.60" stroke="#161616" stroke-width="0.9" />
<line x1="292.00" y1="326.40" x2="476.00" y2="326.40" stroke="#161616" stroke-width="0.8" stroke-dasharray="3.2 1.2 0.8 1.2"/>
<circle cx="319.40" cy="326.40" r="4.40" fill="#fff" stroke="#161616" stroke-width="0.9"/>
<line x1="319.40" y1="321.00" x2="319.40" y2="331.60" stroke="#161616" stroke-width="0.8" />
<line x1="316.00" y1="326.40" x2="323.00" y2="326.40" stroke="#161616" stroke-width="0.8" />
<line x1="323.60" y1="325.00" x2="325.20" y2="325.00" stroke="#161616" stroke-width="0.8" />
<line x1="323.60" y1="327.80" x2="325.20" y2="327.80" stroke="#161616" stroke-width="0.8" />
<rect x="325.80" y="322.00" width="7.20" height="8.60" fill="#fff" stroke="#161616" stroke-width="1.7" />
<line x1="327.00" y1="326.40" x2="332.00" y2="326.40" stroke="#161616" stroke-width="0.8" />
<line x1="333.80" y1="323.70" x2="392.00" y2="323.70" stroke="#161616" stroke-width="1.4" />
<line x1="333.80" y1="329.10" x2="392.00" y2="329.10" stroke="#161616" stroke-width="1.4" />
<rect x="349.00" y="320.10" width="2.40" height="12.60" fill="#161616" stroke="#161616" stroke-width="0.5" />
<rect x="363.60" y="320.10" width="2.40" height="12.60" fill="#161616" stroke="#161616" stroke-width="0.5" />
<rect x="351.40" y="321.90" width="12.20" height="9.30" fill="none" stroke="#333" stroke-width="0.7" />
<line x1="351.40" y1="322.60" x2="363.60" y2="322.60" stroke="#666" stroke-width="1.2" />
<line x1="351.40" y1="330.40" x2="363.60" y2="330.40" stroke="#666" stroke-width="1.2" />
<circle cx="395.60" cy="326.40" r="4.40" fill="#fff" stroke="#161616" stroke-width="0.9"/>
<line x1="395.60" y1="321.20" x2="395.60" y2="331.40" stroke="#161616" stroke-width="0.8" />
<line x1="392.00" y1="326.40" x2="399.00" y2="326.40" stroke="#161616" stroke-width="0.8" />
<line x1="399.80" y1="324.40" x2="439.00" y2="324.40" stroke="#161616" stroke-width="0.9" />
<line x1="399.80" y1="328.50" x2="439.00" y2="328.50" stroke="#161616" stroke-width="0.9" />
<circle cx="443.20" cy="326.40" r="3.90" fill="#fff" stroke="#161616" stroke-width="1.0"/>
<path d="M441.4,324.6 L445.2,326.4 L441.4,328.2" fill="none" stroke="#161616" stroke-width="0.8" />
<rect x="448.35" y="321.60" width="2.30" height="9.60" fill="#161616" stroke="#161616" stroke-width="0.5" />
<rect x="460.40" y="321.60" width="2.40" height="9.60" fill="#161616" stroke="#161616" stroke-width="0.5" />
<rect x="472.20" y="321.60" width="2.40" height="9.60" fill="#161616" stroke="#161616" stroke-width="0.5" />
<circle cx="455.60" cy="326.40" r="3.50" fill="#fff" stroke="#161616" stroke-width="1.1"/>
<circle cx="455.60" cy="326.40" r="1.50" fill="none" stroke="#161616" stroke-width="0.9"/>
<line x1="452.10" y1="326.40" x2="454.10" y2="326.40" stroke="#161616" stroke-width="0.8" />
<line x1="457.10" y1="326.40" x2="459.10" y2="326.40" stroke="#161616" stroke-width="0.8" />
<path d="M453.0,323.29999999999995 L454.0,320.29999999999995 L457.40000000000003,320.29999999999995 L458.6,323.29999999999995" fill="#fff" stroke="#161616" stroke-width="0.9" />
<path d="M453.8,320.5 L454.20000000000005,317.7 L458.0,318.29999999999995 L457.6,320.5Z" fill="#161616" stroke="#161616" stroke-width="0.5" />
<rect x="463.30" y="322.70" width="8.60" height="7.40" fill="#3a3a3a" stroke="#161616" stroke-width="0.6" rx="1.6"/>
<circle cx="465.45" cy="326.40" r="1.85" fill="#d0d0d0" stroke="#161616" stroke-width="0.8"/>
<circle cx="469.75" cy="326.40" r="1.85" fill="#d0d0d0" stroke="#161616" stroke-width="0.8"/>
<circle cx="465.45" cy="326.40" r="0.80" fill="#161616" stroke="#161616" stroke-width="0.4"/>
<circle cx="469.75" cy="326.40" r="0.80" fill="#161616" stroke="#161616" stroke-width="0.4"/>
<rect x="467.15" y="323.50" width="0.90" height="5.80" fill="#ddd" stroke="#ddd" stroke-width="0.3" />
<line x1="468.60" y1="331.00" x2="468.60" y2="337.00" stroke="#161616" stroke-width="1.2" />
<rect x="466.60" y="335.00" width="5.40" height="2.60" fill="#161616" stroke="#161616" stroke-width="0.4" />
<path d="M475.6,324.5 L496.6,321.25 L543.8,321.25" fill="none" stroke="#161616" stroke-width="1.0" />
<path d="M475.6,328.29999999999995 L496.6,331.9 L543.8,331.9" fill="none" stroke="#161616" stroke-width="1.0" />
<line x1="496.60" y1="321.25" x2="496.60" y2="331.90" stroke="#161616" stroke-width="1.0" />
<line x1="477.00" y1="326.40" x2="545.00" y2="326.40" stroke="#161616" stroke-width="0.8" stroke-dasharray="3.2 1.2 0.8 1.2"/>
<rect x="522.00" y="324.60" width="3.80" height="3.80" fill="#fff" stroke="#161616" stroke-width="0.9" />
<line x1="520.00" y1="326.40" x2="528.00" y2="326.40" stroke="#161616" stroke-width="0.8" />
<rect x="544.60" y="318.20" width="2.20" height="16.40" fill="#161616" stroke="#161616" stroke-width="0.5" />
<rect x="548.90" y="318.20" width="2.20" height="16.40" fill="#161616" stroke="#161616" stroke-width="0.5" />
<path d="M551.2,321.25 A20.9,20.75 0 0 1 572.1,342 L572.1,411.3 Q572.1,416.6 567.2,416.6 Q562.4,416.6 562.4,411.3 L562.4,342 A11.2,11.4 0 0 0 551.2,330.6" fill="none" stroke="#161616" stroke-width="1.1" />
<path d="M552,326 A15.3,16 0 0 1 567.3,342" fill="none" stroke="#161616" stroke-width="0.8" stroke-dasharray="2.4 1.4"/>
<line x1="567.25" y1="342.00" x2="567.25" y2="414.00" stroke="#161616" stroke-width="0.8" stroke-dasharray="3.2 1.2 0.8 1.2"/>
<line x1="556.40" y1="322.00" x2="555.20" y2="330.80" stroke="#161616" stroke-width="0.8" />
<line x1="564.00" y1="325.60" x2="558.60" y2="332.80" stroke="#161616" stroke-width="0.8" />
<line x1="569.60" y1="333.40" x2="562.60" y2="337.40" stroke="#161616" stroke-width="0.8" />
<line x1="562.40" y1="342.00" x2="572.10" y2="342.00" stroke="#161616" stroke-width="0.8" />
<line x1="562.40" y1="350.50" x2="572.10" y2="350.50" stroke="#161616" stroke-width="0.8" />
<line x1="562.40" y1="368.00" x2="572.10" y2="368.00" stroke="#161616" stroke-width="0.8" />
<line x1="562.40" y1="386.00" x2="572.10" y2="386.00" stroke="#161616" stroke-width="0.8" />
<rect x="558.50" y="389.20" width="17.10" height="1.80" fill="#161616" stroke="#161616" stroke-width="0.5" />
<rect x="558.50" y="392.60" width="17.10" height="2.00" fill="#161616" stroke="#161616" stroke-width="0.5" />
<line x1="558.90" y1="390.80" x2="558.90" y2="393.00" stroke="#161616" stroke-width="0.9" />
<line x1="575.20" y1="390.80" x2="575.20" y2="393.00" stroke="#161616" stroke-width="0.9" />
<rect x="563.40" y="394.40" width="7.80" height="2.40" fill="#999" stroke="#555" stroke-width="0.4" />
<path d="M566.2,372.6 L568.4,372.6 Q569.4,373.6 568.4,374.6 L566.2,374.6Z M566.2,372.6 L566.2,376.6" fill="none" stroke="#161616" stroke-width="0.8" />
<line x1="319.40" y1="308.75" x2="395.60" y2="308.75" stroke="#161616" stroke-width="0.8" />
<line x1="319.40" y1="308.75" x2="319.40" y2="321.00" stroke="#161616" stroke-width="0.8" />
<line x1="377.50" y1="308.75" x2="377.50" y2="378.50" stroke="#161616" stroke-width="0.8" />
<text x="357.50" y="307.80" font-family="Liberation Sans" font-size="3.3" font-weight="bold" text-anchor="middle" fill="#161616" stroke="#161616" stroke-width="0.24" >1000</text>
<line x1="319.40" y1="315.40" x2="395.60" y2="315.40" stroke="#161616" stroke-width="0.8" />
<line x1="350.30" y1="315.60" x2="350.30" y2="320.00" stroke="#161616" stroke-width="0.8" />
<line x1="364.70" y1="315.60" x2="364.70" y2="320.00" stroke="#161616" stroke-width="0.8" />
<text x="335.00" y="314.80" font-family="Liberation Sans" font-size="3.3" font-weight="bold" text-anchor="middle" fill="#161616" stroke="#161616" stroke-width="0.24" >670</text>
<text x="358.00" y="314.80" font-family="Liberation Sans" font-size="3.3" font-weight="bold" text-anchor="middle" fill="#161616" stroke="#161616" stroke-width="0.24" >200</text>
<text x="381.50" y="314.80" font-family="Liberation Sans" font-size="3.3" font-weight="bold" text-anchor="middle" fill="#161616" stroke="#161616" stroke-width="0.24" >1420</text>
<line x1="395.60" y1="315.40" x2="443.80" y2="315.40" stroke="#161616" stroke-width="0.8" />
<line x1="395.60" y1="308.75" x2="395.60" y2="321.00" stroke="#161616" stroke-width="0.8" />
<line x1="443.80" y1="315.40" x2="443.80" y2="321.00" stroke="#161616" stroke-width="0.8" />
<text x="419.40" y="314.00" font-family="Liberation Sans" font-size="3.3" font-weight="bold" text-anchor="middle" fill="#161616" stroke="#161616" stroke-width="0.24" >1000</text>
<line x1="417.50" y1="320.00" x2="417.50" y2="352.50" stroke="#161616" stroke-width="0.8" />
<text x="416.60" y="352.00" font-family="Liberation Sans" font-size="3.5" font-weight="bold" text-anchor="start" fill="#161616" stroke="#161616" stroke-width="0.24" transform="rotate(-90 416.60 352.00)" textLength="19.50" lengthAdjust="spacingAndGlyphs" >TR 60,3x3,6</text>
<text x="376.40" y="351.00" font-family="Liberation Sans" font-size="3.4" font-weight="bold" text-anchor="start" fill="#161616" stroke="#161616" stroke-width="0.24" transform="rotate(-90 376.40 351.00)" textLength="13.00" lengthAdjust="spacingAndGlyphs" >TR 60,3x3</text>
<line x1="434.40" y1="344.40" x2="545.60" y2="344.40" stroke="#161616" stroke-width="0.8" />
<line x1="443.80" y1="350.40" x2="562.50" y2="350.40" stroke="#161616" stroke-width="0.8" />
<line x1="443.80" y1="331.00" x2="443.80" y2="350.40" stroke="#161616" stroke-width="0.8" />
<line x1="449.40" y1="332.00" x2="449.40" y2="344.40" stroke="#161616" stroke-width="0.8" />
<line x1="461.30" y1="332.00" x2="461.30" y2="344.40" stroke="#161616" stroke-width="0.8" />
<line x1="473.50" y1="332.00" x2="473.50" y2="344.40" stroke="#161616" stroke-width="0.8" />
<line x1="496.60" y1="332.00" x2="496.60" y2="344.40" stroke="#161616" stroke-width="0.8" />
<text x="438.40" y="343.60" font-family="Liberation Sans" font-size="3.3" font-weight="bold" text-anchor="middle" fill="#161616" stroke="#161616" stroke-width="0.24" >203</text>
<text x="455.20" y="343.60" font-family="Liberation Sans" font-size="3.3" font-weight="bold" text-anchor="middle" fill="#161616" stroke="#161616" stroke-width="0.24" >254</text>
<text x="467.40" y="343.60" font-family="Liberation Sans" font-size="3.3" font-weight="bold" text-anchor="middle" fill="#161616" stroke="#161616" stroke-width="0.24" >254</text>
<text x="485.00" y="343.60" font-family="Liberation Sans" font-size="3.3" font-weight="bold" text-anchor="middle" fill="#161616" stroke="#161616" stroke-width="0.24" >490</text>
<text x="521.00" y="343.60" font-family="Liberation Sans" font-size="3.3" font-weight="bold" text-anchor="middle" fill="#161616" stroke="#161616" stroke-width="0.24" >2041</text>
<text x="505.60" y="349.60" font-family="Liberation Sans" font-size="3.5" font-weight="bold" text-anchor="middle" fill="#161616" stroke="#161616" stroke-width="0.24" >2600</text>
<text x="557.60" y="343.60" font-family="Liberation Sans" font-size="3.2" font-weight="bold" text-anchor="middle" fill="#161616" stroke="#161616" stroke-width="0.24" >247</text>
<text x="551.20" y="348.20" font-family="Liberation Sans" font-size="3.2" font-weight="bold" text-anchor="middle" fill="#161616" stroke="#161616" stroke-width="0.24" >162</text>
<line x1="549.00" y1="344.40" x2="566.60" y2="344.40" stroke="#161616" stroke-width="0.8" />
<line x1="547.00" y1="334.40" x2="547.00" y2="344.00" stroke="#161616" stroke-width="0.8" />
<line x1="550.20" y1="334.40" x2="550.20" y2="347.00" stroke="#161616" stroke-width="0.8" />
<path d="M450.7,197 L450.7,187.3 L528.4,187.3 L528.4,217.5 L479.4,217.5" fill="none" stroke="#161616" stroke-width="0.85" />
<path d="M445.5,199 L445.5,189.6 L525.6,189.6 L525.6,215.0 L479.4,215.0" fill="none" stroke="#161616" stroke-width="0.85" />
<path d="M445.5,207 L445.5,223.5 L479.4,223.5" fill="none" stroke="#161616" stroke-width="0.85" />
<path d="M455.2,194.3 L447.4,194.3 L447.4,221.1 L479.4,221.1" fill="none" stroke="#161616" stroke-width="0.85" />
<path d="M435.4,207 L435.4,225.2 L478.4,225.2" fill="none" stroke="#161616" stroke-width="0.85" />
<path d="M438.4,206.6 L438.4,219.2 L479.4,219.2" fill="none" stroke="#161616" stroke-width="0.85" />
<text x="475.60" y="186.40" font-family="Liberation Sans" font-size="3.4" font-weight="bold" text-anchor="start" fill="#161616" stroke="#161616" stroke-width="0.24" textLength="12.40" lengthAdjust="spacingAndGlyphs" >TR 18x1</text>
<text x="490.00" y="214.20" font-family="Liberation Sans" font-size="3.4" font-weight="bold" text-anchor="start" fill="#161616" stroke="#161616" stroke-width="0.24" textLength="13.00" lengthAdjust="spacingAndGlyphs" >TR 15x1</text>
<path d="M438.0,266 L438.0,254.4 L528.4,254.4 L528.4,283.8 L479.4,283.8" fill="none" stroke="#161616" stroke-width="0.85" />
<path d="M460.0,256.9 L525.6,256.9 L525.6,281.3 L479.4,281.3" fill="none" stroke="#161616" stroke-width="0.85" />
<path d="M435.0,279 L435.0,290.6 L479.4,290.6" fill="none" stroke="#161616" stroke-width="0.85" />
<path d="M451.9,275 L451.9,284.4 L479.4,284.4" fill="none" stroke="#161616" stroke-width="0.85" />
<path d="M455.0,281 L455.0,288.0 L479.4,288.0" fill="none" stroke="#161616" stroke-width="0.85" />
<line x1="459.60" y1="280.60" x2="479.40" y2="280.60" stroke="#161616" stroke-width="0.85" />
<text x="492.50" y="253.60" font-family="Liberation Sans" font-size="3.4" font-weight="bold" text-anchor="start" fill="#161616" stroke="#161616" stroke-width="0.24" textLength="13.50" lengthAdjust="spacingAndGlyphs" >TR 12x1</text>
<text x="482.00" y="280.60" font-family="Liberation Sans" font-size="3.4" font-weight="bold" text-anchor="start" fill="#161616" stroke="#161616" stroke-width="0.24" textLength="11.80" lengthAdjust="spacingAndGlyphs" >TR 12x1</text>
<text x="438.80" y="289.80" font-family="Liberation Sans" font-size="3.4" font-weight="bold" text-anchor="start" fill="#161616" stroke="#161616" stroke-width="0.24" textLength="11.80" lengthAdjust="spacingAndGlyphs" >TR 12x1</text>
<path d="M455.6,322 L455.6,312.5 L479.4,312.5" fill="none" stroke="#161616" stroke-width="0.85" />
<path d="M458.0,323 L458.0,315.0 L477.5,315.0 L477.5,337.6" fill="none" stroke="#161616" stroke-width="0.85" />
<path d="M478.6,314.4 L528.4,314.4 L528.4,338.0 L467.0,338.0" fill="none" stroke="#161616" stroke-width="0.85" />
<path d="M460.0,322.6 L460.0,317.0 L525.6,317.0 L525.6,335.6 L470.0,335.6" fill="none" stroke="#161616" stroke-width="0.85" />
<text x="458.80" y="311.20" font-family="Liberation Sans" font-size="3.4" font-weight="bold" text-anchor="start" fill="#161616" stroke="#161616" stroke-width="0.24" textLength="12.20" lengthAdjust="spacingAndGlyphs" >TR 12x1</text>
<text x="512.50" y="313.40" font-family="Liberation Sans" font-size="3.4" font-weight="bold" text-anchor="start" fill="#161616" stroke="#161616" stroke-width="0.24" textLength="12.50" lengthAdjust="spacingAndGlyphs" >TR 12x1</text>
<text x="512.50" y="335.00" font-family="Liberation Sans" font-size="3.4" font-weight="bold" text-anchor="start" fill="#161616" stroke="#161616" stroke-width="0.24" textLength="12.50" lengthAdjust="spacingAndGlyphs" >TR 12x1</text>
<line x1="479.40" y1="221.30" x2="479.40" y2="312.60" stroke="#161616" stroke-width="2.2" />
<line x1="479.40" y1="222.00" x2="479.40" y2="312.00" stroke="#999" stroke-width="0.8" stroke-dasharray="1 3"/>
<circle cx="406.90" cy="193.10" r="6.90" fill="none" stroke="#161616" stroke-width="0.9"/>
<text x="406.90" y="195.80" font-family="Liberation Serif" font-size="7.4" font-weight="normal" text-anchor="middle" fill="#161616" >II.</text>
<circle cx="406.90" cy="279.80" r="6.90" fill="none" stroke="#161616" stroke-width="0.9"/>
<text x="407.20" y="282.50" font-family="Liberation Serif" font-size="7.4" font-weight="normal" text-anchor="middle" fill="#161616" >I.</text>
<path d="M556.36,208.17 A10.8,10.8 0 1 1 575.44,208.17" fill="none" stroke="#161616" stroke-width="1.1" />
<path d="M558.6999999999999,207.10 L558.6999999999999,203.1 A7.2,7.2 0 0 1 573.1,203.1 L573.1,207.10" fill="none" stroke="#161616" stroke-width="1.1" />
<line x1="556.36" y1="208.17" x2="558.70" y2="209.77" stroke="#161616" stroke-width="0.9" />
<line x1="575.44" y1="208.17" x2="573.10" y2="209.77" stroke="#161616" stroke-width="0.9" />
<path d="M556.36,264.93 A10.8,10.8 0 1 0 575.44,264.93" fill="none" stroke="#161616" stroke-width="1.1" />
<path d="M558.6999999999999,266.00 L558.6999999999999,270.0 A7.2,7.2 0 0 0 573.1,270.0 L573.1,266.00" fill="none" stroke="#161616" stroke-width="1.1" />
<line x1="556.36" y1="264.93" x2="558.70" y2="263.33" stroke="#161616" stroke-width="0.9" />
<line x1="575.44" y1="264.93" x2="573.10" y2="263.33" stroke="#161616" stroke-width="0.9" />
<line x1="558.70" y1="203.10" x2="558.70" y2="270.00" stroke="#161616" stroke-width="1.1" />
<line x1="573.10" y1="203.10" x2="573.10" y2="229.40" stroke="#161616" stroke-width="1.1" />
<line x1="573.10" y1="243.00" x2="573.10" y2="270.00" stroke="#161616" stroke-width="1.1" />
<line x1="565.90" y1="186.00" x2="565.90" y2="392.00" stroke="#161616" stroke-width="0.8" stroke-dasharray="3.2 1.2 0.8 1.2"/>
<line x1="558.70" y1="224.40" x2="573.10" y2="224.40" stroke="#161616" stroke-width="0.9" />
<line x1="558.70" y1="248.50" x2="573.10" y2="248.50" stroke="#161616" stroke-width="0.9" />
<line x1="552.00" y1="203.10" x2="580.00" y2="203.10" stroke="#161616" stroke-width="0.8" stroke-dasharray="3.2 1.2 0.8 1.2"/>
<line x1="552.00" y1="270.00" x2="587.60" y2="270.00" stroke="#161616" stroke-width="0.8" stroke-dasharray="3.2 1.2 0.8 1.2"/>
<line x1="556.40" y1="196.10" x2="556.40" y2="210.10" stroke="#161616" stroke-width="0.8" />
<line x1="556.40" y1="263.20" x2="556.40" y2="277.30" stroke="#161616" stroke-width="0.8" />
<path d="M573.1,229.4 L566.3,236.25 L573.1,243.0" fill="none" stroke="#161616" stroke-width="1.0" />
<line x1="573.10" y1="229.40" x2="638.80" y2="229.40" stroke="#161616" stroke-width="1.0" />
<line x1="573.10" y1="243.00" x2="638.80" y2="243.00" stroke="#161616" stroke-width="1.0" />
<line x1="567.00" y1="236.25" x2="681.00" y2="236.25" stroke="#161616" stroke-width="0.8" stroke-dasharray="3.2 1.2 0.8 1.2"/>
<line x1="578.00" y1="230.40" x2="578.00" y2="242.20" stroke="#161616" stroke-width="1.3" stroke-dasharray="2.4 1.4"/>
<line x1="586.30" y1="230.40" x2="586.30" y2="242.20" stroke="#161616" stroke-width="1.3" stroke-dasharray="2.4 1.4"/>
<path d="M607.6,229.4 Q621.4,236.25 607.6,243.0" fill="none" stroke="#161616" stroke-width="1.0" />
<line x1="615.00" y1="236.25" x2="622.00" y2="236.25" stroke="#161616" stroke-width="1.7" />
<line x1="628.80" y1="230.40" x2="628.80" y2="242.20" stroke="#161616" stroke-width="1.1" stroke-dasharray="2.4 1.6"/>
<line x1="633.20" y1="230.40" x2="633.20" y2="242.20" stroke="#161616" stroke-width="1.1" stroke-dasharray="2.4 1.6"/>
<line x1="637.00" y1="230.40" x2="637.00" y2="242.20" stroke="#161616" stroke-width="1.1" stroke-dasharray="2.4 1.6"/>
<rect x="638.80" y="225.00" width="2.70" height="22.50" fill="#fff" stroke="#161616" stroke-width="1.2" rx="0.8"/>
<rect x="644.00" y="225.00" width="2.90" height="22.50" fill="#fff" stroke="#161616" stroke-width="1.2" rx="0.8"/>
<line x1="641.50" y1="226.90" x2="644.00" y2="226.90" stroke="#161616" stroke-width="0.8" />
<line x1="641.50" y1="245.60" x2="644.00" y2="245.60" stroke="#161616" stroke-width="0.8" />
<line x1="646.90" y1="229.40" x2="646.90" y2="243.40" stroke="#161616" stroke-width="0.8" />
<line x1="646.90" y1="229.40" x2="648.60" y2="229.40" stroke="#161616" stroke-width="0.9" />
<line x1="646.90" y1="243.40" x2="648.60" y2="243.40" stroke="#161616" stroke-width="0.9" />
<path d="M648.5,229.4 L670,229.4 Q677.6,230.4 677.6,236.4 Q677.6,242.4 670,243.4 L648.5,243.4Z" fill="none" stroke="#161616" stroke-width="1.0" />
<line x1="670.00" y1="230.40" x2="670.00" y2="242.60" stroke="#161616" stroke-width="0.9" stroke-dasharray="2.4 1.6"/>
<line x1="607.50" y1="223.60" x2="607.50" y2="229.40" stroke="#161616" stroke-width="0.9" />
<ellipse cx="607.50" cy="225.30" rx="3.30" ry="1.20" fill="#fff" stroke="#161616" stroke-width="0.8"/>
<line x1="604.60" y1="225.30" x2="610.40" y2="225.30" stroke="#161616" stroke-width="0.8" />
<line x1="621.30" y1="225.60" x2="621.30" y2="229.40" stroke="#161616" stroke-width="0.8" />
<path d="M619.8,225.8 L622.8,225.8 L621.3,223.6Z" fill="none" stroke="#161616" stroke-width="0.8" />
<line x1="607.50" y1="216.30" x2="628.80" y2="216.30" stroke="#161616" stroke-width="0.8" />
<line x1="607.50" y1="216.30" x2="607.50" y2="223.40" stroke="#161616" stroke-width="0.8" />
<text x="618.00" y="215.40" font-family="Liberation Sans" font-size="3.3" font-weight="bold" text-anchor="middle" fill="#161616" stroke="#161616" stroke-width="0.24" >450</text>
<line x1="633.40" y1="219.30" x2="670.00" y2="219.30" stroke="#161616" stroke-width="0.8" />
<line x1="640.40" y1="219.30" x2="640.40" y2="225.00" stroke="#161616" stroke-width="0.8" />
<line x1="644.60" y1="219.30" x2="644.60" y2="225.00" stroke="#161616" stroke-width="0.8" />
<line x1="670.00" y1="219.30" x2="670.00" y2="229.40" stroke="#161616" stroke-width="0.8" />
<text x="637.00" y="218.00" font-family="Liberation Sans" font-size="3.0" font-weight="bold" text-anchor="middle" fill="#161616" stroke="#161616" stroke-width="0.24" >135</text>
<text x="643.60" y="217.40" font-family="Liberation Sans" font-size="3.6" font-weight="bold" text-anchor="middle" fill="#161616" stroke="#161616" stroke-width="0.24" >70</text>
<text x="657.20" y="218.40" font-family="Liberation Sans" font-size="3.3" font-weight="bold" text-anchor="middle" fill="#161616" stroke="#161616" stroke-width="0.24" >535</text>
<line x1="587.50" y1="203.10" x2="587.50" y2="378.50" stroke="#161616" stroke-width="0.8" />
<line x1="565.90" y1="326.30" x2="601.30" y2="326.30" stroke="#161616" stroke-width="0.8" />
<text x="586.60" y="223.00" font-family="Liberation Sans" font-size="3.2" font-weight="bold" text-anchor="start" fill="#161616" stroke="#161616" stroke-width="0.24" transform="rotate(-90 586.60 223.00)" textLength="7.40" lengthAdjust="spacingAndGlyphs" >250</text>
<text x="586.60" y="256.40" font-family="Liberation Sans" font-size="3.2" font-weight="bold" text-anchor="start" fill="#161616" stroke="#161616" stroke-width="0.24" transform="rotate(-90 586.60 256.40)" textLength="7.80" lengthAdjust="spacingAndGlyphs" >320</text>
<text x="586.60" y="301.20" font-family="Liberation Sans" font-size="3.2" font-weight="bold" text-anchor="start" fill="#161616" stroke="#161616" stroke-width="0.24" transform="rotate(-90 586.60 301.20)" textLength="8.40" lengthAdjust="spacingAndGlyphs" >1280</text>
<text x="586.60" y="346.60" font-family="Liberation Sans" font-size="3.2" font-weight="bold" text-anchor="start" fill="#161616" stroke="#161616" stroke-width="0.24" transform="rotate(-90 586.60 346.60)" textLength="7.00" lengthAdjust="spacingAndGlyphs" >250</text>
<text x="586.60" y="372.00" font-family="Liberation Sans" font-size="3.0" font-weight="bold" text-anchor="start" fill="#161616" stroke="#161616" stroke-width="0.24" transform="rotate(-90 586.60 372.00)" textLength="6.00" lengthAdjust="spacingAndGlyphs" >160</text>
<path d="M605.6,243.0 L612.0,265.0 L611.3,300.8" fill="none" stroke="#161616" stroke-width="1.0" />
<path d="M612.6,243.0 L618.1,265.0 L618.1,300.8" fill="none" stroke="#161616" stroke-width="1.0" />
<path d="M609.2,243.4 L615.0,265 L614.7,300" fill="none" stroke="#161616" stroke-width="0.8" stroke-dasharray="3.4 1.6"/>
<line x1="607.60" y1="250.00" x2="614.40" y2="248.20" stroke="#161616" stroke-width="0.8" />
<line x1="609.80" y1="257.60" x2="616.60" y2="255.80" stroke="#161616" stroke-width="0.8" />
<line x1="612.00" y1="265.00" x2="618.10" y2="265.00" stroke="#161616" stroke-width="0.8" />
<line x1="611.40" y1="276.60" x2="618.10" y2="276.60" stroke="#161616" stroke-width="0.8" />
<path d="M613.4,262.6 Q615.4,264.8 617.6,262.6" fill="none" stroke="#161616" stroke-width="0.8" />
<text x="622.00" y="286.20" font-family="Liberation Sans" font-size="3.4" font-weight="bold" text-anchor="start" fill="#161616" stroke="#161616" stroke-width="0.24" textLength="18.40" lengthAdjust="spacingAndGlyphs" >TR 76,1x3,2</text>
<line x1="618.10" y1="286.80" x2="640.60" y2="286.80" stroke="#161616" stroke-width="0.8" />
<rect x="608.00" y="301.20" width="13.30" height="1.40" fill="#161616" stroke="#161616" stroke-width="0.5" />
<rect x="608.00" y="304.20" width="13.30" height="1.40" fill="#161616" stroke="#161616" stroke-width="0.5" />
<line x1="608.40" y1="301.20" x2="608.40" y2="305.60" stroke="#161616" stroke-width="0.9" />
<line x1="620.90" y1="301.20" x2="620.90" y2="305.60" stroke="#161616" stroke-width="0.9" />
<rect x="608.00" y="326.90" width="13.30" height="1.40" fill="#161616" stroke="#161616" stroke-width="0.5" />
<rect x="608.00" y="329.90" width="13.30" height="1.40" fill="#161616" stroke="#161616" stroke-width="0.5" />
<line x1="608.40" y1="326.90" x2="608.40" y2="331.30" stroke="#161616" stroke-width="0.9" />
<line x1="620.90" y1="326.90" x2="620.90" y2="331.30" stroke="#161616" stroke-width="0.9" />
<line x1="612.00" y1="305.60" x2="612.00" y2="309.40" stroke="#161616" stroke-width="0.9" />
<line x1="617.40" y1="305.60" x2="617.40" y2="309.40" stroke="#161616" stroke-width="0.9" />
<line x1="612.00" y1="323.20" x2="612.00" y2="326.90" stroke="#161616" stroke-width="0.9" />
<line x1="617.40" y1="323.20" x2="617.40" y2="326.90" stroke="#161616" stroke-width="0.9" />
<line x1="601.30" y1="303.00" x2="608.00" y2="303.00" stroke="#161616" stroke-width="0.8" />
<line x1="601.30" y1="305.00" x2="608.00" y2="305.00" stroke="#161616" stroke-width="0.8" />
<line x1="601.30" y1="328.40" x2="608.00" y2="328.40" stroke="#161616" stroke-width="0.8" />
<line x1="601.30" y1="330.40" x2="608.00" y2="330.40" stroke="#161616" stroke-width="0.8" />
<circle cx="614.60" cy="316.30" r="7.50" fill="#fff" stroke="#161616" stroke-width="1.1"/>
<circle cx="614.60" cy="316.30" r="6.00" fill="none" stroke="#161616" stroke-width="0.7"/>
<path d="M609.6,311.0 L619.8,321.4 M611.4,309.6 L621.2,319.8 M608.2,313.0 L617.8,322.8 M619.6,311.2 L609.6,321.4" fill="none" stroke="#161616" stroke-width="0.8" />
<line x1="601.30" y1="298.00" x2="601.30" y2="359.40" stroke="#161616" stroke-width="0.8" />
<text x="600.40" y="305.60" font-family="Liberation Sans" font-size="3.0" font-weight="bold" text-anchor="start" fill="#161616" stroke="#161616" stroke-width="0.24" transform="rotate(-90 600.40 305.60)" textLength="5.00" lengthAdjust="spacingAndGlyphs" >80</text>
<text x="600.40" y="320.00" font-family="Liberation Sans" font-size="3.2" font-weight="bold" text-anchor="start" fill="#161616" stroke="#161616" stroke-width="0.24" transform="rotate(-90 600.40 320.00)" textLength="7.60" lengthAdjust="spacingAndGlyphs" >160</text>
<text x="600.40" y="331.60" font-family="Liberation Sans" font-size="3.0" font-weight="bold" text-anchor="start" fill="#161616" stroke="#161616" stroke-width="0.24" transform="rotate(-90 600.40 331.60)" textLength="5.00" lengthAdjust="spacingAndGlyphs" >80</text>
<text x="600.40" y="349.40" font-family="Liberation Sans" font-size="3.4" font-weight="bold" text-anchor="start" fill="#161616" stroke="#161616" stroke-width="0.24" transform="rotate(-90 600.40 349.40)" textLength="8.80" lengthAdjust="spacingAndGlyphs" >500</text>
<path d="M618.1,331.3 L618.1,349 A13.5,14.1 0 0 1 604.6,363.1 L572.5,363.1 L566.9,358.9 L572.5,355.2 L604.6,355.6 A6.7,6.6 0 0 0 611.3,349 L611.3,331.3" fill="none" stroke="#161616" stroke-width="1.1" />
<path d="M614.7,332 L614.7,349 A10.1,10.3 0 0 1 604.6,359.3 L568,359.3" fill="none" stroke="#161616" stroke-width="0.8" stroke-dasharray="3.2 1.6"/>
<line x1="576.30" y1="355.40" x2="576.30" y2="363.10" stroke="#161616" stroke-width="0.8" />
<line x1="611.30" y1="349.00" x2="618.10" y2="349.00" stroke="#161616" stroke-width="0.8" />
<line x1="604.60" y1="355.60" x2="604.60" y2="363.10" stroke="#161616" stroke-width="0.8" />
<line x1="609.60" y1="353.80" x2="614.80" y2="359.60" stroke="#161616" stroke-width="0.8" />
<line x1="585.00" y1="356.00" x2="585.00" y2="362.80" stroke="#161616" stroke-width="1.0" stroke-dasharray="2 1.2"/>
<line x1="586.90" y1="356.00" x2="586.90" y2="362.80" stroke="#161616" stroke-width="1.0" stroke-dasharray="2 1.2"/>
<path d="M590.6,359.4 L593.8,357.6 L597.0,359.4 L593.8,361.2Z" fill="#333" stroke="#161616" stroke-width="0.8" />
<line x1="614.40" y1="363.10" x2="614.40" y2="370.00" stroke="#161616" stroke-width="0.8" />
<line x1="614.40" y1="370.00" x2="626.40" y2="370.00" stroke="#161616" stroke-width="0.8" />
<text x="621.60" y="369.20" font-family="Liberation Sans" font-size="3.3" font-weight="bold" text-anchor="middle" fill="#161616" stroke="#161616" stroke-width="0.24" >220</text>
<line x1="580.60" y1="363.10" x2="595.60" y2="410.40" stroke="#161616" stroke-width="0.8" />
<line x1="595.60" y1="410.40" x2="607.60" y2="410.40" stroke="#161616" stroke-width="0.8" />
<text x="597.00" y="409.40" font-family="Liberation Sans" font-size="6.6" font-weight="normal" text-anchor="start" fill="#161616" textLength="9.00" lengthAdjust="spacingAndGlyphs" stroke="#161616" stroke-width="0.2">60</text>
<line x1="582.50" y1="384.40" x2="582.50" y2="411.20" stroke="#161616" stroke-width="0.8" />
<line x1="575.60" y1="390.60" x2="582.50" y2="390.60" stroke="#161616" stroke-width="0.8" />
<line x1="571.50" y1="411.20" x2="582.50" y2="411.20" stroke="#161616" stroke-width="0.8" />
<text x="585.60" y="392.60" font-family="Liberation Sans" font-size="3.2" font-weight="bold" text-anchor="start" fill="#161616" stroke="#161616" stroke-width="0.24" transform="rotate(-90 585.60 392.60)" textLength="7.60" lengthAdjust="spacingAndGlyphs" >307</text>
<text x="581.60" y="407.40" font-family="Liberation Sans" font-size="3.2" font-weight="bold" text-anchor="start" fill="#161616" stroke="#161616" stroke-width="0.24" transform="rotate(-90 581.60 407.40)" textLength="8.00" lengthAdjust="spacingAndGlyphs" >345</text>
<text x="539.80" y="404.60" font-family="Liberation Sans" font-size="3.5" font-weight="bold" text-anchor="start" fill="#161616" stroke="#161616" stroke-width="0.24" textLength="19.60" lengthAdjust="spacingAndGlyphs" >TR 219x6,3</text>
<line x1="539.80" y1="405.20" x2="562.20" y2="405.20" stroke="#161616" stroke-width="0.8" />
<rect x="247.50" y="389.40" width="11.90" height="2.50" fill="#161616" stroke="#161616" stroke-width="0.5" />
<path d="M250.2,391.9 L248.2,398 M256.8,391.9 L258.8,398" fill="none" stroke="#161616" stroke-width="0.9" />
<rect x="246.30" y="398.00" width="14.30" height="3.30" fill="#fff" stroke="#161616" stroke-width="1.3" rx="1"/>
<line x1="248.20" y1="401.30" x2="248.20" y2="406.20" stroke="#161616" stroke-width="0.9" />
<line x1="258.80" y1="401.30" x2="258.80" y2="406.20" stroke="#161616" stroke-width="0.9" />
<rect x="247.50" y="406.20" width="12.50" height="2.30" fill="#444" stroke="#161616" stroke-width="0.9" />
<line x1="250.60" y1="408.50" x2="250.60" y2="444.40" stroke="#161616" stroke-width="1.0" />
<line x1="256.50" y1="408.50" x2="256.50" y2="444.40" stroke="#161616" stroke-width="1.0" />
<line x1="252.20" y1="410.00" x2="252.20" y2="443.00" stroke="#444" stroke-width="0.8" />
<line x1="254.90" y1="410.00" x2="254.90" y2="443.00" stroke="#444" stroke-width="0.8" />
<line x1="253.50" y1="392.00" x2="253.50" y2="408.00" stroke="#161616" stroke-width="0.8" stroke-dasharray="2.4 1.4"/>
<line x1="250.60" y1="414.00" x2="256.50" y2="414.00" stroke="#161616" stroke-width="0.8" />
<line x1="250.60" y1="421.00" x2="256.50" y2="421.00" stroke="#161616" stroke-width="0.8" />
<line x1="250.60" y1="436.00" x2="256.50" y2="436.00" stroke="#161616" stroke-width="0.8" />
<line x1="250.60" y1="441.00" x2="256.50" y2="441.00" stroke="#161616" stroke-width="0.8" />
<rect x="252.20" y="427.40" width="2.70" height="2.20" fill="#161616" stroke="#161616" stroke-width="0.4" />
<path d="M249.4,444.4 L257.8,444.4 L257.8,453.8 L249.4,453.8Z" fill="none" stroke="#161616" stroke-width="1.0" />
<path d="M251,444.6 Q253.6,449 256.2,444.6" fill="none" stroke="#161616" stroke-width="0.8" />
<line x1="267.50" y1="385.00" x2="267.50" y2="442.60" stroke="#161616" stroke-width="0.8" />
<line x1="259.40" y1="389.40" x2="267.50" y2="389.40" stroke="#161616" stroke-width="0.8" />
<line x1="260.00" y1="407.50" x2="267.50" y2="407.50" stroke="#161616" stroke-width="0.8" />
<line x1="257.00" y1="443.80" x2="267.50" y2="443.80" stroke="#161616" stroke-width="0.8" />
<line x1="274.50" y1="385.00" x2="274.50" y2="454.00" stroke="#161616" stroke-width="0.8" />
<line x1="257.80" y1="454.00" x2="274.50" y2="454.00" stroke="#161616" stroke-width="0.8" />
<text x="266.60" y="389.40" font-family="Liberation Sans" font-size="3.0" font-weight="bold" text-anchor="start" fill="#161616" stroke="#161616" stroke-width="0.24" transform="rotate(-90 266.60 389.40)" textLength="4.80" lengthAdjust="spacingAndGlyphs" >135</text>
<text x="266.60" y="403.00" font-family="Liberation Sans" font-size="3.2" font-weight="bold" text-anchor="start" fill="#161616" stroke="#161616" stroke-width="0.24" transform="rotate(-90 266.60 403.00)" textLength="7.40" lengthAdjust="spacingAndGlyphs" >284</text>
<text x="266.60" y="430.20" font-family="Liberation Sans" font-size="3.4" font-weight="bold" text-anchor="start" fill="#161616" stroke="#161616" stroke-width="0.24" transform="rotate(-90 266.60 430.20)" textLength="8.60" lengthAdjust="spacingAndGlyphs" >775</text>
<text x="273.60" y="424.40" font-family="Liberation Sans" font-size="3.4" font-weight="bold" text-anchor="start" fill="#161616" stroke="#161616" stroke-width="0.24" transform="rotate(-90 273.60 424.40)" textLength="10.00" lengthAdjust="spacingAndGlyphs" >1530</text>
<text x="231.30" y="419.40" font-family="Liberation Sans" font-size="3.5" font-weight="bold" text-anchor="start" fill="#161616" stroke="#161616" stroke-width="0.24" textLength="15.00" lengthAdjust="spacingAndGlyphs" >TR 114x4</text>
<line x1="231.00" y1="420.00" x2="250.40" y2="420.00" stroke="#161616" stroke-width="0.8" />
<line x1="257.00" y1="420.20" x2="262.00" y2="420.20" stroke="#161616" stroke-width="0.8" />
<text x="227.00" y="451.00" font-family="Liberation Sans" font-size="3.5" font-weight="bold" text-anchor="start" fill="#161616" stroke="#161616" stroke-width="0.24" textLength="19.30" lengthAdjust="spacingAndGlyphs" >TR 60,3x3,6</text>
<line x1="227.00" y1="451.60" x2="249.20" y2="451.60" stroke="#161616" stroke-width="0.8" />
<path d="M306.3,371.3 L306.3,368.6 Q306.6,365.4 310,365.4 L320,365.4 Q323.6,365.4 323.8,368.6 L323.8,371.3Z" fill="#fff" stroke="#161616" stroke-width="0.9" />
<line x1="309.00" y1="365.70" x2="321.00" y2="365.70" stroke="#444" stroke-width="1.4" />
<line x1="314.10" y1="371.30" x2="314.10" y2="378.40" stroke="#161616" stroke-width="0.8" />
<line x1="316.30" y1="371.30" x2="316.30" y2="378.40" stroke="#161616" stroke-width="0.8" />
<circle cx="329.00" cy="369.00" r="3.10" fill="#fff" stroke="#161616" stroke-width="0.9"/>
<line x1="325.90" y1="369.00" x2="332.10" y2="369.00" stroke="#161616" stroke-width="0.8" />
<circle cx="338.50" cy="369.00" r="3.10" fill="#fff" stroke="#161616" stroke-width="0.9"/>
<line x1="335.40" y1="369.00" x2="341.60" y2="369.00" stroke="#161616" stroke-width="0.8" />
<circle cx="356.00" cy="369.00" r="3.10" fill="#fff" stroke="#161616" stroke-width="0.9"/>
<line x1="352.90" y1="369.00" x2="359.10" y2="369.00" stroke="#161616" stroke-width="0.8" />
<circle cx="365.60" cy="369.00" r="3.10" fill="#fff" stroke="#161616" stroke-width="0.9"/>
<line x1="362.50" y1="369.00" x2="368.70" y2="369.00" stroke="#161616" stroke-width="0.8" />
<ellipse cx="346.90" cy="369.00" rx="2.60" ry="2.20" fill="#fff" stroke="#161616" stroke-width="0.8"/>
<line x1="343.60" y1="369.00" x2="350.40" y2="369.00" stroke="#161616" stroke-width="1.4" />
<line x1="323.80" y1="369.00" x2="326.00" y2="369.00" stroke="#161616" stroke-width="0.8" />
<line x1="332.10" y1="369.00" x2="335.40" y2="369.00" stroke="#161616" stroke-width="0.8" />
<line x1="341.60" y1="369.00" x2="344.20" y2="369.00" stroke="#161616" stroke-width="0.8" />
<line x1="349.60" y1="369.00" x2="352.90" y2="369.00" stroke="#161616" stroke-width="0.8" />
<line x1="359.10" y1="369.00" x2="362.50" y2="369.00" stroke="#161616" stroke-width="0.8" />
<path d="M340.4,371.6 L343.8,375.0 L351.3,375.0" fill="none" stroke="#161616" stroke-width="0.8" />
<line x1="350.40" y1="369.00" x2="350.40" y2="378.40" stroke="#161616" stroke-width="0.8" />
<line x1="352.00" y1="369.00" x2="352.00" y2="378.40" stroke="#161616" stroke-width="0.8" />
<path d="M368.7,369.0 L373.1,369.0 L373.1,375.0 M367.4,371.6 L370.2,375.0 L377.5,375.0" fill="none" stroke="#161616" stroke-width="0.8" />
<text x="638.80" y="453.20" font-family="Liberation Mono" font-size="5.6" font-weight="normal" text-anchor="start" fill="#161616" stroke="#161616" stroke-width="0.12" textLength="64.40" lengthAdjust="spacingAndGlyphs" >SOUVISEJÍCÍ VÝKRESY:</text>
<line x1="638.00" y1="454.50" x2="704.00" y2="454.50" stroke="#161616" stroke-width="0.8" />
<text x="633.50" y="465.90" font-family="Liberation Mono" font-size="5.5" font-weight="bold" text-anchor="start" fill="#161616" stroke="#161616" stroke-width="0.12" textLength="52.80" lengthAdjust="spacingAndGlyphs" >TECHNICKÁ ZPRÁVA</text>
<text x="703.30" y="465.90" font-family="Liberation Mono" font-size="5.5" font-weight="bold" text-anchor="start" fill="#161616" stroke="#161616" stroke-width="0.12" >-</text>
<text x="708.30" y="465.90" font-family="Liberation Mono" font-size="5.5" font-weight="bold" text-anchor="start" fill="#161616" stroke="#161616" stroke-width="0.12" textLength="20.50" lengthAdjust="spacingAndGlyphs" >VÝKRES</text>
<text x="733.20" y="465.90" font-family="Liberation Mono" font-size="5.5" font-weight="bold" text-anchor="start" fill="#161616" stroke="#161616" stroke-width="0.12" textLength="14.60" lengthAdjust="spacingAndGlyphs" >ČÍSLO</text>
<text x="752.00" y="465.90" font-family="Liberation Mono" font-size="5.5" font-weight="bold" text-anchor="start" fill="#161616" stroke="#161616" stroke-width="0.12" textLength="28.60" lengthAdjust="spacingAndGlyphs" >RP-6-0099</text>
<text x="633.50" y="472.84" font-family="Liberation Mono" font-size="5.5" font-weight="bold" text-anchor="start" fill="#161616" stroke="#161616" stroke-width="0.12" textLength="39.60" lengthAdjust="spacingAndGlyphs" >SITUACE M1:100</text>
<text x="703.30" y="472.84" font-family="Liberation Mono" font-size="5.5" font-weight="bold" text-anchor="start" fill="#161616" stroke="#161616" stroke-width="0.12" >-</text>
<text x="708.30" y="472.84" font-family="Liberation Mono" font-size="5.5" font-weight="bold" text-anchor="start" fill="#161616" stroke="#161616" stroke-width="0.12" textLength="20.50" lengthAdjust="spacingAndGlyphs" >VÝKRES</text>
<text x="733.20" y="472.84" font-family="Liberation Mono" font-size="5.5" font-weight="bold" text-anchor="start" fill="#161616" stroke="#161616" stroke-width="0.12" textLength="14.60" lengthAdjust="spacingAndGlyphs" >ČÍSLO</text>
<text x="752.00" y="472.84" font-family="Liberation Mono" font-size="5.5" font-weight="bold" text-anchor="start" fill="#161616" stroke="#161616" stroke-width="0.12" textLength="28.60" lengthAdjust="spacingAndGlyphs" >RP-2-0128</text>
<text x="633.50" y="479.78" font-family="Liberation Mono" font-size="5.5" font-weight="bold" text-anchor="start" fill="#161616" stroke="#161616" stroke-width="0.12" textLength="19.80" lengthAdjust="spacingAndGlyphs" >SCHÉMA</text>
<text x="703.30" y="479.78" font-family="Liberation Mono" font-size="5.5" font-weight="bold" text-anchor="start" fill="#161616" stroke="#161616" stroke-width="0.12" >-</text>
<text x="708.30" y="479.78" font-family="Liberation Mono" font-size="5.5" font-weight="bold" text-anchor="start" fill="#161616" stroke="#161616" stroke-width="0.12" textLength="20.50" lengthAdjust="spacingAndGlyphs" >VÝKRES</text>
<text x="733.20" y="479.78" font-family="Liberation Mono" font-size="5.5" font-weight="bold" text-anchor="start" fill="#161616" stroke="#161616" stroke-width="0.12" textLength="14.60" lengthAdjust="spacingAndGlyphs" >ČÍSLO</text>
<text x="752.00" y="479.78" font-family="Liberation Mono" font-size="5.5" font-weight="bold" text-anchor="start" fill="#161616" stroke="#161616" stroke-width="0.12" textLength="28.60" lengthAdjust="spacingAndGlyphs" >RP-3-0129</text>
<text x="633.50" y="486.72" font-family="Liberation Mono" font-size="5.5" font-weight="bold" text-anchor="start" fill="#161616" stroke="#161616" stroke-width="0.12" textLength="23.10" lengthAdjust="spacingAndGlyphs" >ŘEZ A-A</text>
<text x="703.30" y="486.72" font-family="Liberation Mono" font-size="5.5" font-weight="bold" text-anchor="start" fill="#161616" stroke="#161616" stroke-width="0.12" >-</text>
<text x="708.30" y="486.72" font-family="Liberation Mono" font-size="5.5" font-weight="bold" text-anchor="start" fill="#161616" stroke="#161616" stroke-width="0.12" textLength="20.50" lengthAdjust="spacingAndGlyphs" >VÝKRES</text>
<text x="733.20" y="486.72" font-family="Liberation Mono" font-size="5.5" font-weight="bold" text-anchor="start" fill="#161616" stroke="#161616" stroke-width="0.12" textLength="14.60" lengthAdjust="spacingAndGlyphs" >ČÍSLO</text>
<text x="752.00" y="486.72" font-family="Liberation Mono" font-size="5.5" font-weight="bold" text-anchor="start" fill="#161616" stroke="#161616" stroke-width="0.12" textLength="28.60" lengthAdjust="spacingAndGlyphs" >RP-2-0130</text>
<text x="633.50" y="493.66" font-family="Liberation Mono" font-size="5.5" font-weight="bold" text-anchor="start" fill="#161616" stroke="#161616" stroke-width="0.12" textLength="23.10" lengthAdjust="spacingAndGlyphs" >ŘEZ B-B</text>
<text x="703.30" y="493.66" font-family="Liberation Mono" font-size="5.5" font-weight="bold" text-anchor="start" fill="#161616" stroke="#161616" stroke-width="0.12" >-</text>
<text x="708.30" y="493.66" font-family="Liberation Mono" font-size="5.5" font-weight="bold" text-anchor="start" fill="#161616" stroke="#161616" stroke-width="0.12" textLength="20.50" lengthAdjust="spacingAndGlyphs" >VÝKRES</text>
<text x="733.20" y="493.66" font-family="Liberation Mono" font-size="5.5" font-weight="bold" text-anchor="start" fill="#161616" stroke="#161616" stroke-width="0.12" textLength="14.60" lengthAdjust="spacingAndGlyphs" >ČÍSLO</text>
<text x="752.00" y="493.66" font-family="Liberation Mono" font-size="5.5" font-weight="bold" text-anchor="start" fill="#161616" stroke="#161616" stroke-width="0.12" textLength="28.60" lengthAdjust="spacingAndGlyphs" >RP-2-0128</text>
<text x="633.50" y="500.60" font-family="Liberation Mono" font-size="5.5" font-weight="bold" text-anchor="start" fill="#161616" stroke="#161616" stroke-width="0.12" textLength="23.10" lengthAdjust="spacingAndGlyphs" >ŘEZ C-C</text>
<text x="703.30" y="500.60" font-family="Liberation Mono" font-size="5.5" font-weight="bold" text-anchor="start" fill="#161616" stroke="#161616" stroke-width="0.12" >-</text>
<text x="708.30" y="500.60" font-family="Liberation Mono" font-size="5.5" font-weight="bold" text-anchor="start" fill="#161616" stroke="#161616" stroke-width="0.12" textLength="20.50" lengthAdjust="spacingAndGlyphs" >VÝKRES</text>
<text x="733.20" y="500.60" font-family="Liberation Mono" font-size="5.5" font-weight="bold" text-anchor="start" fill="#161616" stroke="#161616" stroke-width="0.12" textLength="14.60" lengthAdjust="spacingAndGlyphs" >ČÍSLO</text>
<text x="752.00" y="500.60" font-family="Liberation Mono" font-size="5.5" font-weight="bold" text-anchor="start" fill="#161616" stroke="#161616" stroke-width="0.12" textLength="28.60" lengthAdjust="spacingAndGlyphs" >RP-2-0129</text>
<text x="633.50" y="507.54" font-family="Liberation Mono" font-size="5.5" font-weight="bold" text-anchor="start" fill="#161616" stroke="#161616" stroke-width="0.12" textLength="23.10" lengthAdjust="spacingAndGlyphs" >ŘEZ D-D</text>
<text x="703.30" y="507.54" font-family="Liberation Mono" font-size="5.5" font-weight="bold" text-anchor="start" fill="#161616" stroke="#161616" stroke-width="0.12" >-</text>
<text x="708.30" y="507.54" font-family="Liberation Mono" font-size="5.5" font-weight="bold" text-anchor="start" fill="#161616" stroke="#161616" stroke-width="0.12" textLength="20.50" lengthAdjust="spacingAndGlyphs" >VÝKRES</text>
<text x="733.20" y="507.54" font-family="Liberation Mono" font-size="5.5" font-weight="bold" text-anchor="start" fill="#161616" stroke="#161616" stroke-width="0.12" textLength="14.60" lengthAdjust="spacingAndGlyphs" >ČÍSLO</text>
<text x="752.00" y="507.54" font-family="Liberation Mono" font-size="5.5" font-weight="bold" text-anchor="start" fill="#161616" stroke="#161616" stroke-width="0.12" textLength="28.60" lengthAdjust="spacingAndGlyphs" >RP-3-0131</text>
<text x="633.50" y="514.48" font-family="Liberation Mono" font-size="5.5" font-weight="bold" text-anchor="start" fill="#161616" stroke="#161616" stroke-width="0.12" textLength="42.90" lengthAdjust="spacingAndGlyphs" >ŘEZY E-E; G-G</text>
<text x="703.30" y="514.48" font-family="Liberation Mono" font-size="5.5" font-weight="bold" text-anchor="start" fill="#161616" stroke="#161616" stroke-width="0.12" >-</text>
<text x="708.30" y="514.48" font-family="Liberation Mono" font-size="5.5" font-weight="bold" text-anchor="start" fill="#161616" stroke="#161616" stroke-width="0.12" textLength="20.50" lengthAdjust="spacingAndGlyphs" >VÝKRES</text>
<text x="733.20" y="514.48" font-family="Liberation Mono" font-size="5.5" font-weight="bold" text-anchor="start" fill="#161616" stroke="#161616" stroke-width="0.12" textLength="14.60" lengthAdjust="spacingAndGlyphs" >ČÍSLO</text>
<text x="752.00" y="514.48" font-family="Liberation Mono" font-size="5.5" font-weight="bold" text-anchor="start" fill="#161616" stroke="#161616" stroke-width="0.12" textLength="28.60" lengthAdjust="spacingAndGlyphs" >RP-3-0132</text>
<text x="633.50" y="521.42" font-family="Liberation Mono" font-size="5.5" font-weight="bold" text-anchor="start" fill="#161616" stroke="#161616" stroke-width="0.12" textLength="52.80" lengthAdjust="spacingAndGlyphs" >ROZPIS MATERIÁLU</text>
<text x="703.30" y="521.42" font-family="Liberation Mono" font-size="5.5" font-weight="bold" text-anchor="start" fill="#161616" stroke="#161616" stroke-width="0.12" >-</text>
<text x="708.30" y="521.42" font-family="Liberation Mono" font-size="5.5" font-weight="bold" text-anchor="start" fill="#161616" stroke="#161616" stroke-width="0.12" textLength="20.50" lengthAdjust="spacingAndGlyphs" >VÝKRES</text>
<text x="733.20" y="521.42" font-family="Liberation Mono" font-size="5.5" font-weight="bold" text-anchor="start" fill="#161616" stroke="#161616" stroke-width="0.12" textLength="14.60" lengthAdjust="spacingAndGlyphs" >ČÍSLO</text>
<text x="752.00" y="521.42" font-family="Liberation Mono" font-size="5.5" font-weight="bold" text-anchor="start" fill="#161616" stroke="#161616" stroke-width="0.12" textLength="28.60" lengthAdjust="spacingAndGlyphs" >RP-6-0092</text>
<text x="433.80" y="534.60" font-family="Liberation Mono" font-size="6.0" font-weight="normal" text-anchor="start" fill="#161616" stroke="#161616" stroke-width="0.12" textLength="32.60" lengthAdjust="spacingAndGlyphs" >POZNÁMKA:</text>
<line x1="433.60" y1="536.30" x2="466.60" y2="536.30" stroke="#161616" stroke-width="0.8" />
<circle cx="438.00" cy="543.50" r="2.90" fill="none" stroke="#161616" stroke-width="0.7"/>
<text x="438.20" y="545.00" font-family="Liberation Serif" font-size="4.2" font-weight="bold" text-anchor="middle" fill="#161616" stroke="#161616" stroke-width="0.24" >I.</text>
<text x="441.60" y="545.60" font-family="Liberation Sans" font-size="4.4" font-weight="bold" text-anchor="start" fill="#161616" stroke="#161616" stroke-width="0.24" >,</text>
<circle cx="448.20" cy="543.50" r="2.90" fill="none" stroke="#161616" stroke-width="0.7"/>
<text x="448.30" y="545.00" font-family="Liberation Serif" font-size="4.0" font-weight="bold" text-anchor="middle" fill="#161616" stroke="#161616" stroke-width="0.24" >II.</text>
<text x="454.00" y="544.80" font-family="Liberation Mono" font-size="5.1" font-weight="bold" text-anchor="start" fill="#161616" stroke="#161616" stroke-width="0.12" textLength="138.60" lengthAdjust="spacingAndGlyphs" >OZNAČENÍ PROVEDENO A ZJIŠTĚNO ŘADY V KAŽDÉM REGULAČNÍM STUPNI.</text>
<text x="434.00" y="551.20" font-family="Liberation Mono" font-size="5.1" font-weight="bold" text-anchor="start" fill="#161616" stroke="#161616" stroke-width="0.12" textLength="158.60" lengthAdjust="spacingAndGlyphs" >ODFUKOVÁ A IMPULSNÍ POTRUBÍ JE TŘEBA PŘIPEVNIT KE STAVEBNÍ ČÁSTI RS.</text>
<text x="434.00" y="557.40" font-family="Liberation Mono" font-size="5.1" font-weight="bold" text-anchor="start" fill="#161616" stroke="#161616" stroke-width="0.12" textLength="148.60" lengthAdjust="spacingAndGlyphs" >ODFUKOVÉ POTRUBÍ OD VÝMĚNÍKŮ, REGULÁTORŮ RP-M A REGULAČNÍCH ŘAD</text>
<text x="434.00" y="562.80" font-family="Liberation Mono" font-size="5.1" font-weight="bold" text-anchor="start" fill="#161616" stroke="#161616" stroke-width="0.12" textLength="87.00" lengthAdjust="spacingAndGlyphs" >JE VYVEDENO 0,5m NAD STŘECHU BUDOVY.</text>
<text x="434.00" y="568.70" font-family="Liberation Mono" font-size="5.1" font-weight="bold" text-anchor="start" fill="#161616" stroke="#161616" stroke-width="0.12" textLength="169.80" lengthAdjust="spacingAndGlyphs" >PROSTUPY MEZI MÍSTNOSTMI REGULACE A PŘEDEHŘEVU PLYNU MUSÍ BÝT PLYNOTĚSNÉ.</text>
<text x="434.00" y="574.40" font-family="Liberation Mono" font-size="5.1" font-weight="bold" text-anchor="start" fill="#161616" stroke="#161616" stroke-width="0.12" textLength="136.20" lengthAdjust="spacingAndGlyphs" >RS JE VYBAVENA NÁVARKY A JÍMKAMI PRO ZKUŠEBNÍ PŘÍRODY DN5.</text>
<rect x="615.60" y="531.90" width="176.70" height="61.20" fill="none" stroke="#161616" stroke-width="1.3" />
<line x1="632.80" y1="531.90" x2="632.80" y2="547.50" stroke="#161616" stroke-width="0.9" />
<line x1="652.50" y1="531.90" x2="652.50" y2="593.10" stroke="#161616" stroke-width="1.0" />
<line x1="734.40" y1="531.90" x2="734.40" y2="593.10" stroke="#161616" stroke-width="1.0" />
<line x1="768.40" y1="531.90" x2="768.40" y2="556.30" stroke="#161616" stroke-width="1.0" />
<line x1="749.40" y1="566.30" x2="749.40" y2="593.10" stroke="#161616" stroke-width="0.9" />
<line x1="652.50" y1="539.40" x2="734.40" y2="539.40" stroke="#161616" stroke-width="0.9" />
<line x1="615.60" y1="547.50" x2="768.40" y2="547.50" stroke="#161616" stroke-width="0.9" />
<line x1="615.60" y1="556.30" x2="792.30" y2="556.30" stroke="#161616" stroke-width="1.0" />
<line x1="734.40" y1="566.30" x2="792.30" y2="566.30" stroke="#161616" stroke-width="0.9" />
<text x="617.00" y="536.60" font-family="Liberation Sans" font-size="4.2" font-weight="normal" text-anchor="start" fill="#161616" stroke="#161616" stroke-width="0.24" textLength="14.40" lengthAdjust="spacingAndGlyphs" >Originál</text>
<text x="622.00" y="543.80" font-family="Liberation Sans" font-size="4.2" font-weight="bold" text-anchor="start" fill="#161616" stroke="#161616" stroke-width="0.24" textLength="5.60" lengthAdjust="spacingAndGlyphs" >XX</text>
<text x="634.40" y="536.60" font-family="Liberation Sans" font-size="4.2" font-weight="bold" text-anchor="start" fill="#161616" stroke="#161616" stroke-width="0.24" textLength="15.80" lengthAdjust="spacingAndGlyphs" >FORMÁT A3</text>
<text x="638.60" y="544.20" font-family="Liberation Sans" font-size="4.2" font-weight="bold" text-anchor="start" fill="#161616" stroke="#161616" stroke-width="0.24" textLength="7.20" lengthAdjust="spacingAndGlyphs" >KCP</text>
<text x="653.40" y="537.60" font-family="Liberation Sans" font-size="4.2" font-weight="normal" text-anchor="start" fill="#161616" stroke="#161616" stroke-width="0.24" textLength="19.00" lengthAdjust="spacingAndGlyphs" >Navrhoval</text>
<text x="677.00" y="538.00" font-family="Liberation Sans" font-size="4.2" font-weight="bold" text-anchor="start" fill="#161616" stroke="#161616" stroke-width="0.24" textLength="16.00" lengthAdjust="spacingAndGlyphs" >ZÁLESKÝ</text>
<text x="653.40" y="545.40" font-family="Liberation Sans" font-size="4.2" font-weight="normal" text-anchor="start" fill="#161616" stroke="#161616" stroke-width="0.24" textLength="12.40" lengthAdjust="spacingAndGlyphs" >Kreslil</text>
<text x="677.00" y="545.80" font-family="Liberation Sans" font-size="4.2" font-weight="bold" text-anchor="start" fill="#161616" stroke="#161616" stroke-width="0.24" textLength="16.00" lengthAdjust="spacingAndGlyphs" >ZÁLESKÝ</text>
<text x="617.00" y="553.60" font-family="Liberation Sans" font-size="4.2" font-weight="normal" text-anchor="start" fill="#161616" stroke="#161616" stroke-width="0.24" textLength="21.00" lengthAdjust="spacingAndGlyphs" >Zakázka č.:</text>
<text x="641.40" y="553.60" font-family="Liberation Sans" font-size="4.2" font-weight="normal" text-anchor="start" fill="#161616" stroke="#161616" stroke-width="0.24" textLength="6.60" lengthAdjust="spacingAndGlyphs" >009</text>
<text x="653.40" y="553.60" font-family="Liberation Sans" font-size="4.2" font-weight="normal" text-anchor="start" fill="#161616" stroke="#161616" stroke-width="0.24" textLength="14.60" lengthAdjust="spacingAndGlyphs" >Schválil</text>
<text x="677.00" y="553.80" font-family="Liberation Sans" font-size="4.2" font-weight="bold" text-anchor="start" fill="#161616" stroke="#161616" stroke-width="0.24" textLength="11.60" lengthAdjust="spacingAndGlyphs" >MĚŘKA</text>
<ellipse cx="633.80" cy="563.10" rx="16.20" ry="5.60" fill="none" stroke="#161616" stroke-width="0.9"/>
<ellipse cx="633.80" cy="563.10" rx="13.60" ry="3.60" fill="none" stroke="#161616" stroke-width="0.5"/>
<text x="633.80" y="564.90" font-family="Liberation Serif" font-size="4.8" font-weight="bold" text-anchor="middle" fill="#161616" stroke="#161616" stroke-width="0.12" textLength="24.00" lengthAdjust="spacingAndGlyphs" >ROBOTIZER</text>
<line x1="628.50" y1="569.40" x2="639.00" y2="569.40" stroke="#161616" stroke-width="0.8" />
<text x="633.80" y="573.40" font-family="Liberation Sans" font-size="2.6" font-weight="normal" text-anchor="middle" fill="#161616" stroke="#161616" stroke-width="0.24" textLength="8.00" lengthAdjust="spacingAndGlyphs" >s. r. o.</text>
<text x="617.60" y="580.20" font-family="Liberation Sans" font-size="4.0" font-weight="bold" text-anchor="start" fill="#161616" stroke="#161616" stroke-width="0.24" textLength="32.00" lengthAdjust="spacingAndGlyphs" >Hlubočká ulice 845</text>
<text x="618.40" y="584.60" font-family="Liberation Sans" font-size="4.0" font-weight="normal" text-anchor="start" fill="#161616" stroke="#161616" stroke-width="0.24" textLength="30.40" lengthAdjust="spacingAndGlyphs" >594 51 Radkov n/L.</text>
<text x="619.60" y="589.00" font-family="Liberation Sans" font-size="3.2" font-weight="bold" text-anchor="start" fill="#161616" stroke="#161616" stroke-width="0.24" textLength="28.00" lengthAdjust="spacingAndGlyphs" >tel./fax: 566 427 005</text>
<text x="619.60" y="592.00" font-family="Liberation Sans" font-size="3.2" font-weight="bold" text-anchor="start" fill="#161616" stroke="#161616" stroke-width="0.24" textLength="28.00" lengthAdjust="spacingAndGlyphs" >e-mail: robot@iol.cz</text>
<text x="653.40" y="561.40" font-family="Liberation Sans" font-size="4.2" font-weight="normal" text-anchor="start" fill="#161616" stroke="#161616" stroke-width="0.24" textLength="11.40" lengthAdjust="spacingAndGlyphs" >Akce:</text>
<text x="668.00" y="562.40" font-family="Liberation Mono" font-size="4.9" font-weight="bold" text-anchor="start" fill="#161616" stroke="#161616" stroke-width="0.12" textLength="44.00" lengthAdjust="spacingAndGlyphs" >VTL PŘÍPOJOVACÍ PLYNOVOD,</text>
<text x="668.00" y="566.80" font-family="Liberation Mono" font-size="4.9" font-weight="bold" text-anchor="start" fill="#161616" stroke="#161616" stroke-width="0.12" textLength="41.00" lengthAdjust="spacingAndGlyphs" >VTL RS A PŘEPOJKA NN</text>
<text x="668.00" y="571.20" font-family="Liberation Mono" font-size="4.9" font-weight="bold" text-anchor="start" fill="#161616" stroke="#161616" stroke-width="0.12" textLength="32.40" lengthAdjust="spacingAndGlyphs" >PRO RD/VANOVICE</text>
<text x="667.80" y="589.60" font-family="Liberation Sans" font-size="11.6" font-weight="normal" text-anchor="start" fill="#161616" textLength="49.20" lengthAdjust="spacingAndGlyphs" >PŮDORYS</text>
<text x="736.20" y="536.60" font-family="Liberation Sans" font-size="4.2" font-weight="normal" text-anchor="start" fill="#161616" stroke="#161616" stroke-width="0.24" textLength="18.80" lengthAdjust="spacingAndGlyphs" >Poznámka</text>
<text x="771.20" y="538.20" font-family="Liberation Sans" font-size="4.2" font-weight="normal" text-anchor="start" fill="#161616" stroke="#161616" stroke-width="0.24" textLength="17.60" lengthAdjust="spacingAndGlyphs" >Svazek:</text>
<text x="769.20" y="550.20" font-family="Liberation Sans" font-size="10.2" font-weight="bold" text-anchor="start" fill="#161616" textLength="23.00" lengthAdjust="spacingAndGlyphs" >PS.01.1</text>
<text x="736.20" y="550.60" font-family="Liberation Sans" font-size="4.2" font-weight="normal" text-anchor="start" fill="#161616" stroke="#161616" stroke-width="0.24" textLength="11.40" lengthAdjust="spacingAndGlyphs" >Datum</text>
<text x="752.00" y="554.80" font-family="Liberation Sans" font-size="3.6" font-weight="bold" text-anchor="start" fill="#161616" stroke="#161616" stroke-width="0.24" textLength="15.20" lengthAdjust="spacingAndGlyphs" >04/2004</text>
<text x="736.20" y="560.60" font-family="Liberation Sans" font-size="4.0" font-weight="normal" text-anchor="start" fill="#161616" stroke="#161616" stroke-width="0.24" textLength="15.60" lengthAdjust="spacingAndGlyphs" >Paré č.</text>
<text x="735.40" y="570.40" font-family="Liberation Sans" font-size="4.2" font-weight="normal" text-anchor="start" fill="#161616" stroke="#161616" stroke-width="0.24" textLength="12.60" lengthAdjust="spacingAndGlyphs" >Stupeň</text>
<text x="750.40" y="570.60" font-family="Liberation Sans" font-size="4.6" font-weight="normal" text-anchor="start" fill="#161616" stroke="#161616" stroke-width="0.12" textLength="29.00" lengthAdjust="spacingAndGlyphs" >Číslo výkresu</text>
<text x="752.20" y="587.20" font-family="Liberation Mono" font-size="7.4" font-weight="bold" text-anchor="start" fill="#161616" textLength="36.80" lengthAdjust="spacingAndGlyphs" >RP-1-0101</text>
</svg>
</body></html>
